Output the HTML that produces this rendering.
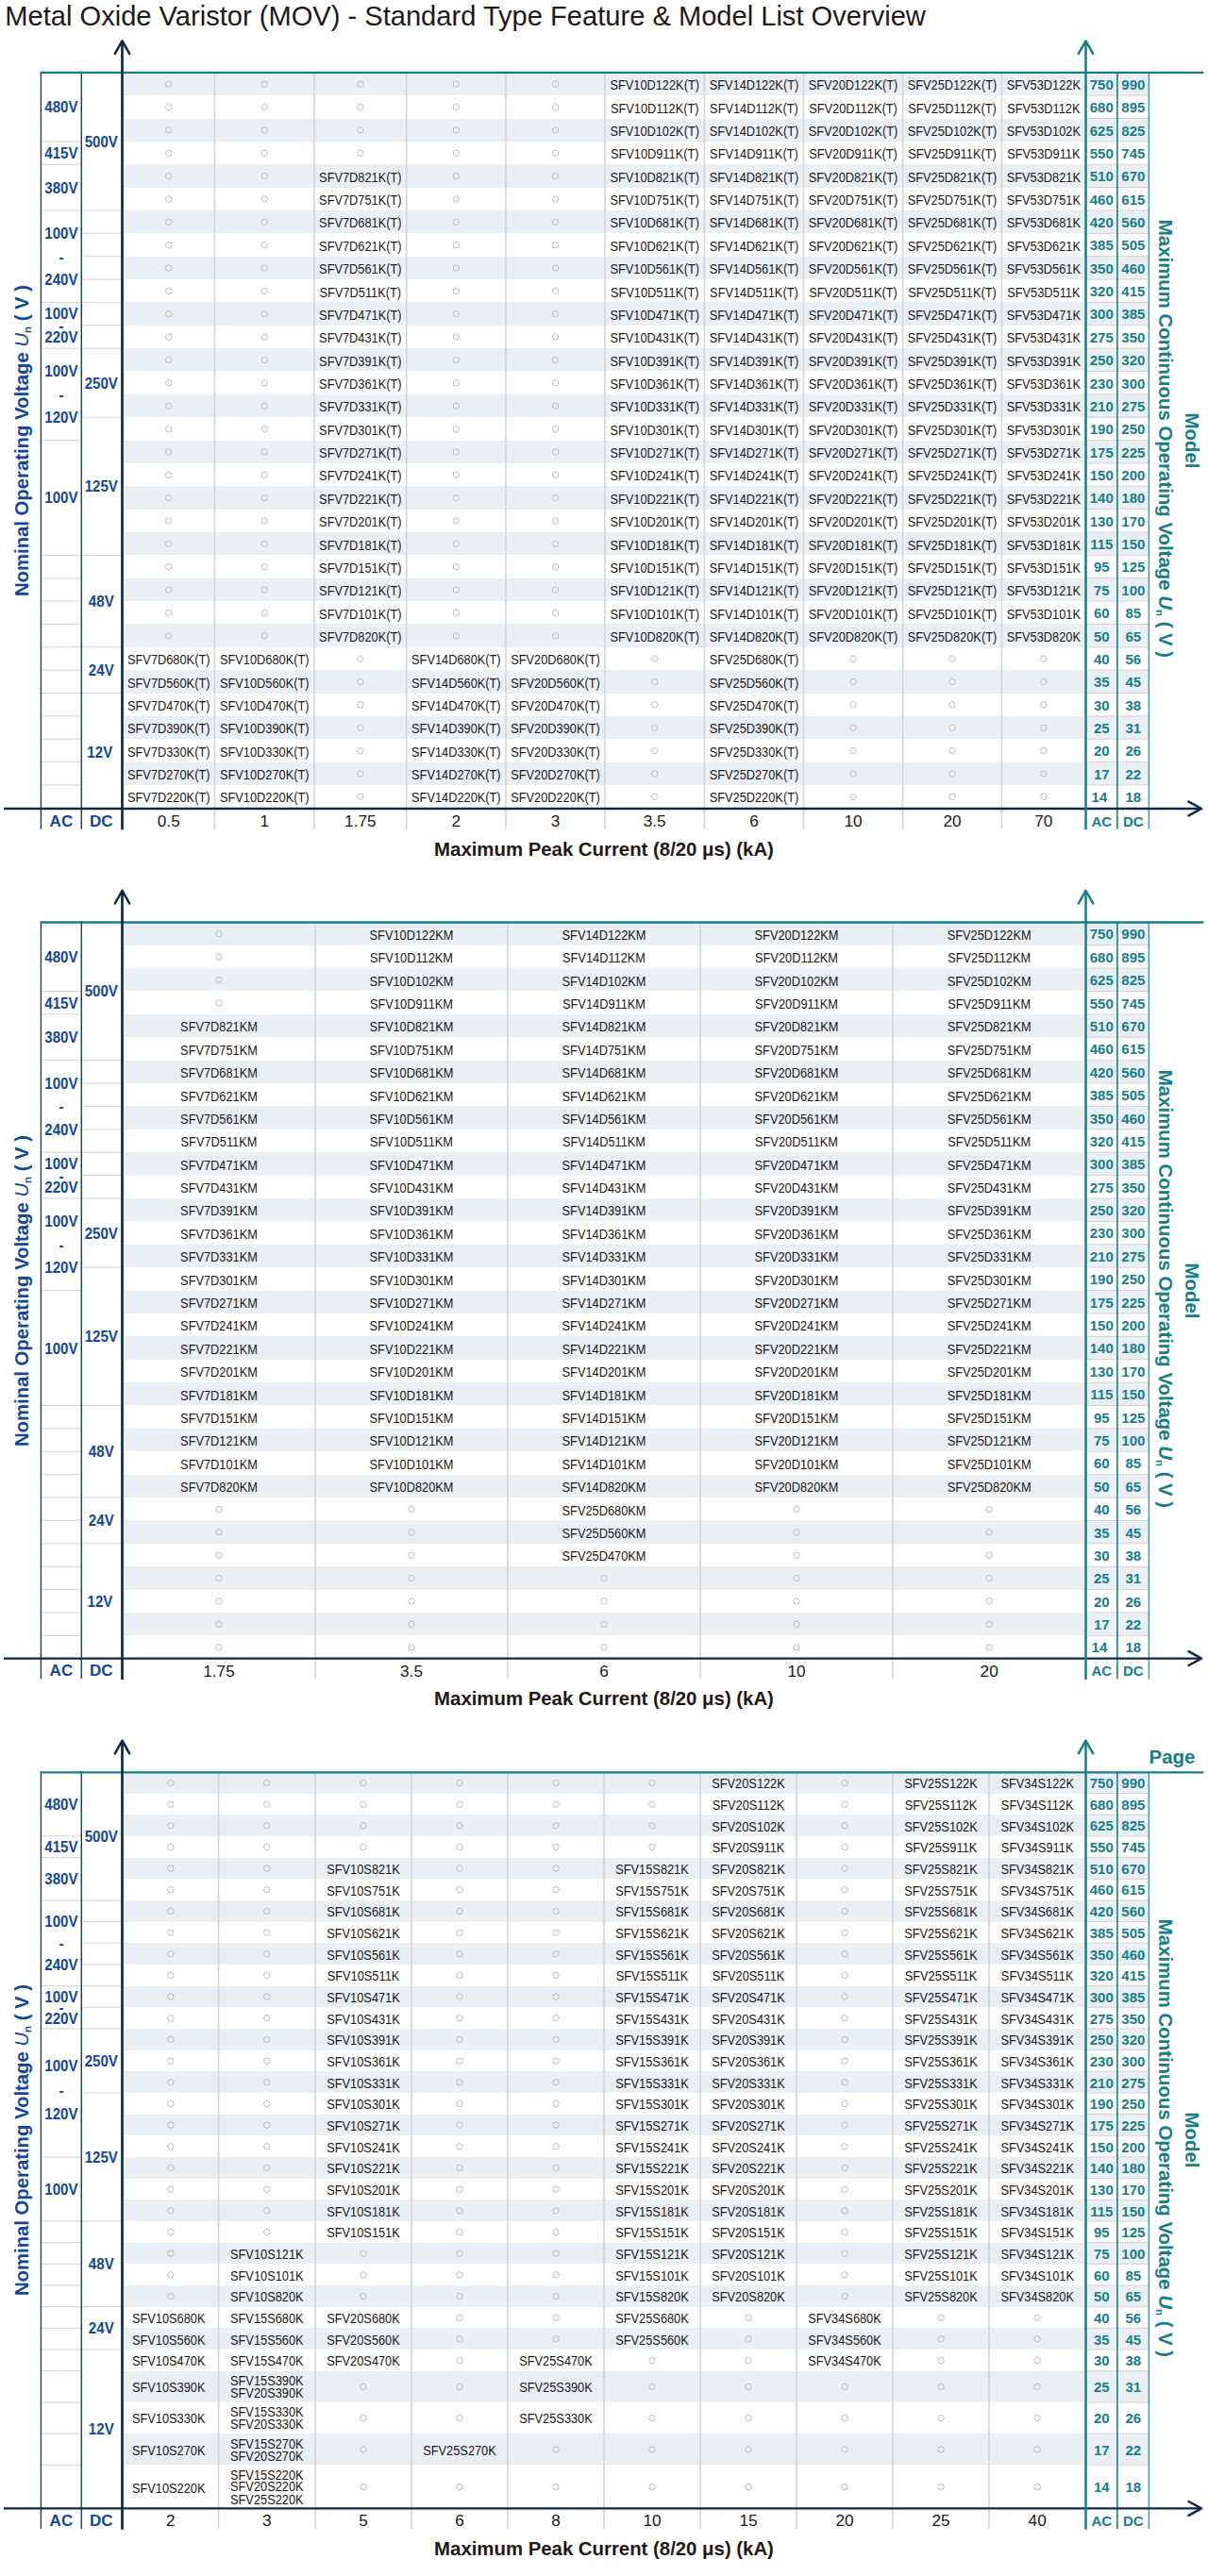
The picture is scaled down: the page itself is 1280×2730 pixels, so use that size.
<!DOCTYPE html>
<html><head><meta charset="utf-8"><title>Metal Oxide Varistor (MOV) - Standard Type Feature &amp; Model List Overview</title>
<style>
html,body{margin:0;padding:0;background:#fff}
body{width:1280px;height:2730px;position:relative;overflow:hidden;font-family:"Liberation Sans",Arial,sans-serif;color:#231815}
.a{position:absolute}
.t{position:absolute;white-space:nowrap;text-align:center}
.d{position:absolute;display:flex;align-items:center;justify-content:center;white-space:nowrap;font-size:12.8px;line-height:15px;color:#231815;transform:scaleY(1.1);transform-origin:50% calc(50% + 4.43px)}
.m{flex-direction:column;line-height:11.45px;transform-origin:50% 50%}
.b{position:absolute;background:#eaeff3}
.lb{font-weight:bold;color:#12479a;font-size:15.1px;line-height:20px;transform:scaleY(1.1);transform-origin:50% 4.42px}
.nb{font-weight:bold;color:#167e88;font-size:15px;line-height:20px}
.bl{font-size:17.2px;line-height:22px;color:#231815}
.xt{font-weight:bold;font-size:20.38px;line-height:24px;color:#231815}
.rot{font-weight:bold;font-size:20.4px;line-height:24px}
svg{position:absolute;left:0;overflow:visible}
</style></head><body>
<div class="t" style="left:5.3px;top:0px;font-size:29.1px;line-height:34px;color:#231815">Metal Oxide Varistor (MOV) - Standard Type Feature &amp; Model List Overview</div>
<div class="b" style="left:131px;top:76.8px;width:1018px;height:24.36px"></div><div class="b" style="left:1151px;top:76.8px;width:66px;height:24.36px"></div><div class="b" style="left:131px;top:125.52px;width:1018px;height:24.36px"></div><div class="b" style="left:1151px;top:125.52px;width:66px;height:24.36px"></div><div class="b" style="left:131px;top:174.24px;width:1018px;height:24.36px"></div><div class="b" style="left:1151px;top:174.24px;width:66px;height:24.36px"></div><div class="b" style="left:131px;top:222.96px;width:1018px;height:24.36px"></div><div class="b" style="left:1151px;top:222.96px;width:66px;height:24.36px"></div><div class="b" style="left:131px;top:271.68px;width:1018px;height:24.36px"></div><div class="b" style="left:1151px;top:271.68px;width:66px;height:24.36px"></div><div class="b" style="left:131px;top:320.4px;width:1018px;height:24.36px"></div><div class="b" style="left:1151px;top:320.4px;width:66px;height:24.36px"></div><div class="b" style="left:131px;top:369.12px;width:1018px;height:24.36px"></div><div class="b" style="left:1151px;top:369.12px;width:66px;height:24.36px"></div><div class="b" style="left:131px;top:417.84px;width:1018px;height:24.36px"></div><div class="b" style="left:1151px;top:417.84px;width:66px;height:24.36px"></div><div class="b" style="left:131px;top:466.56px;width:1018px;height:24.36px"></div><div class="b" style="left:1151px;top:466.56px;width:66px;height:24.36px"></div><div class="b" style="left:131px;top:515.28px;width:1018px;height:24.36px"></div><div class="b" style="left:1151px;top:515.28px;width:66px;height:24.36px"></div><div class="b" style="left:131px;top:564px;width:1018px;height:24.36px"></div><div class="b" style="left:1151px;top:564px;width:66px;height:24.36px"></div><div class="b" style="left:131px;top:612.72px;width:1018px;height:24.36px"></div><div class="b" style="left:1151px;top:612.72px;width:66px;height:24.36px"></div><div class="b" style="left:131px;top:661.44px;width:1018px;height:24.36px"></div><div class="b" style="left:1151px;top:661.44px;width:66px;height:24.36px"></div><div class="b" style="left:131px;top:710.16px;width:1018px;height:24.36px"></div><div class="b" style="left:1151px;top:710.16px;width:66px;height:24.36px"></div><div class="b" style="left:131px;top:758.88px;width:1018px;height:24.36px"></div><div class="b" style="left:1151px;top:758.88px;width:66px;height:24.36px"></div><div class="b" style="left:131px;top:807.6px;width:1018px;height:24.36px"></div><div class="b" style="left:1151px;top:807.6px;width:66px;height:24.36px"></div>
<svg class="a" style="top:0;left:0" width="1280" height="2730" viewBox="0 0 1280 2730"><line x1="227.5" y1="77.8" x2="227.5" y2="878.7" stroke="#d4d4d6" stroke-width="1.6" stroke-linecap="butt"/><line x1="333" y1="77.8" x2="333" y2="878.7" stroke="#d4d4d6" stroke-width="1.6" stroke-linecap="butt"/><line x1="430.7" y1="77.8" x2="430.7" y2="878.7" stroke="#d4d4d6" stroke-width="1.6" stroke-linecap="butt"/><line x1="536" y1="77.8" x2="536" y2="878.7" stroke="#d4d4d6" stroke-width="1.6" stroke-linecap="butt"/><line x1="641" y1="77.8" x2="641" y2="878.7" stroke="#d4d4d6" stroke-width="1.6" stroke-linecap="butt"/><line x1="746.4" y1="77.8" x2="746.4" y2="878.7" stroke="#d4d4d6" stroke-width="1.6" stroke-linecap="butt"/><line x1="851.5" y1="77.8" x2="851.5" y2="878.7" stroke="#d4d4d6" stroke-width="1.6" stroke-linecap="butt"/><line x1="956.5" y1="77.8" x2="956.5" y2="878.7" stroke="#d4d4d6" stroke-width="1.6" stroke-linecap="butt"/><line x1="1061.4" y1="77.8" x2="1061.4" y2="878.7" stroke="#d4d4d6" stroke-width="1.6" stroke-linecap="butt"/><line x1="1151" y1="101.16" x2="1217" y2="101.16" stroke="#d3d3d3" stroke-width="1" stroke-linecap="butt"/><line x1="1151" y1="125.52" x2="1217" y2="125.52" stroke="#d3d3d3" stroke-width="1" stroke-linecap="butt"/><line x1="1151" y1="149.88" x2="1217" y2="149.88" stroke="#d3d3d3" stroke-width="1" stroke-linecap="butt"/><line x1="1151" y1="174.24" x2="1217" y2="174.24" stroke="#d3d3d3" stroke-width="1" stroke-linecap="butt"/><line x1="1151" y1="198.6" x2="1217" y2="198.6" stroke="#d3d3d3" stroke-width="1" stroke-linecap="butt"/><line x1="1151" y1="222.96" x2="1217" y2="222.96" stroke="#d3d3d3" stroke-width="1" stroke-linecap="butt"/><line x1="1151" y1="247.32" x2="1217" y2="247.32" stroke="#d3d3d3" stroke-width="1" stroke-linecap="butt"/><line x1="1151" y1="271.68" x2="1217" y2="271.68" stroke="#d3d3d3" stroke-width="1" stroke-linecap="butt"/><line x1="1151" y1="296.04" x2="1217" y2="296.04" stroke="#d3d3d3" stroke-width="1" stroke-linecap="butt"/><line x1="1151" y1="320.4" x2="1217" y2="320.4" stroke="#d3d3d3" stroke-width="1" stroke-linecap="butt"/><line x1="1151" y1="344.76" x2="1217" y2="344.76" stroke="#d3d3d3" stroke-width="1" stroke-linecap="butt"/><line x1="1151" y1="369.12" x2="1217" y2="369.12" stroke="#d3d3d3" stroke-width="1" stroke-linecap="butt"/><line x1="1151" y1="393.48" x2="1217" y2="393.48" stroke="#d3d3d3" stroke-width="1" stroke-linecap="butt"/><line x1="1151" y1="417.84" x2="1217" y2="417.84" stroke="#d3d3d3" stroke-width="1" stroke-linecap="butt"/><line x1="1151" y1="442.2" x2="1217" y2="442.2" stroke="#d3d3d3" stroke-width="1" stroke-linecap="butt"/><line x1="1151" y1="466.56" x2="1217" y2="466.56" stroke="#d3d3d3" stroke-width="1" stroke-linecap="butt"/><line x1="1151" y1="490.92" x2="1217" y2="490.92" stroke="#d3d3d3" stroke-width="1" stroke-linecap="butt"/><line x1="1151" y1="515.28" x2="1217" y2="515.28" stroke="#d3d3d3" stroke-width="1" stroke-linecap="butt"/><line x1="1151" y1="539.64" x2="1217" y2="539.64" stroke="#d3d3d3" stroke-width="1" stroke-linecap="butt"/><line x1="1151" y1="564" x2="1217" y2="564" stroke="#d3d3d3" stroke-width="1" stroke-linecap="butt"/><line x1="1151" y1="588.36" x2="1217" y2="588.36" stroke="#d3d3d3" stroke-width="1" stroke-linecap="butt"/><line x1="1151" y1="612.72" x2="1217" y2="612.72" stroke="#d3d3d3" stroke-width="1" stroke-linecap="butt"/><line x1="1151" y1="637.08" x2="1217" y2="637.08" stroke="#d3d3d3" stroke-width="1" stroke-linecap="butt"/><line x1="1151" y1="661.44" x2="1217" y2="661.44" stroke="#d3d3d3" stroke-width="1" stroke-linecap="butt"/><line x1="1151" y1="685.8" x2="1217" y2="685.8" stroke="#d3d3d3" stroke-width="1" stroke-linecap="butt"/><line x1="1151" y1="710.16" x2="1217" y2="710.16" stroke="#d3d3d3" stroke-width="1" stroke-linecap="butt"/><line x1="1151" y1="734.52" x2="1217" y2="734.52" stroke="#d3d3d3" stroke-width="1" stroke-linecap="butt"/><line x1="1151" y1="758.88" x2="1217" y2="758.88" stroke="#d3d3d3" stroke-width="1" stroke-linecap="butt"/><line x1="1151" y1="783.24" x2="1217" y2="783.24" stroke="#d3d3d3" stroke-width="1" stroke-linecap="butt"/><line x1="1151" y1="807.6" x2="1217" y2="807.6" stroke="#d3d3d3" stroke-width="1" stroke-linecap="butt"/><line x1="1151" y1="831.96" x2="1217" y2="831.96" stroke="#d3d3d3" stroke-width="1" stroke-linecap="butt"/><line x1="44" y1="149.88" x2="85.5" y2="149.88" stroke="#d3d3d3" stroke-width="1" stroke-linecap="butt"/><line x1="44" y1="174.24" x2="85.5" y2="174.24" stroke="#d3d3d3" stroke-width="1" stroke-linecap="butt"/><line x1="44" y1="222.96" x2="85.5" y2="222.96" stroke="#d3d3d3" stroke-width="1" stroke-linecap="butt"/><line x1="44" y1="320.4" x2="85.5" y2="320.4" stroke="#d3d3d3" stroke-width="1" stroke-linecap="butt"/><line x1="44" y1="369.12" x2="85.5" y2="369.12" stroke="#d3d3d3" stroke-width="1" stroke-linecap="butt"/><line x1="44" y1="466.56" x2="85.5" y2="466.56" stroke="#d3d3d3" stroke-width="1" stroke-linecap="butt"/><line x1="44" y1="588.36" x2="85.5" y2="588.36" stroke="#d3d3d3" stroke-width="1" stroke-linecap="butt"/><line x1="44" y1="612.72" x2="85.5" y2="612.72" stroke="#d3d3d3" stroke-width="1" stroke-linecap="butt"/><line x1="44" y1="637.08" x2="85.5" y2="637.08" stroke="#d3d3d3" stroke-width="1" stroke-linecap="butt"/><line x1="44" y1="661.44" x2="85.5" y2="661.44" stroke="#d3d3d3" stroke-width="1" stroke-linecap="butt"/><line x1="44" y1="685.8" x2="85.5" y2="685.8" stroke="#d3d3d3" stroke-width="1" stroke-linecap="butt"/><line x1="44" y1="710.16" x2="85.5" y2="710.16" stroke="#d3d3d3" stroke-width="1" stroke-linecap="butt"/><line x1="44" y1="734.52" x2="85.5" y2="734.52" stroke="#d3d3d3" stroke-width="1" stroke-linecap="butt"/><line x1="44" y1="758.88" x2="85.5" y2="758.88" stroke="#d3d3d3" stroke-width="1" stroke-linecap="butt"/><line x1="44" y1="783.24" x2="85.5" y2="783.24" stroke="#d3d3d3" stroke-width="1" stroke-linecap="butt"/><line x1="44" y1="807.6" x2="85.5" y2="807.6" stroke="#d3d3d3" stroke-width="1" stroke-linecap="butt"/><line x1="44" y1="831.96" x2="85.5" y2="831.96" stroke="#d3d3d3" stroke-width="1" stroke-linecap="butt"/><line x1="87" y1="222.96" x2="128" y2="222.96" stroke="#d3d3d3" stroke-width="1" stroke-linecap="butt"/><line x1="87" y1="247.32" x2="128" y2="247.32" stroke="#d3d3d3" stroke-width="1" stroke-linecap="butt"/><line x1="87" y1="271.68" x2="128" y2="271.68" stroke="#d3d3d3" stroke-width="1" stroke-linecap="butt"/><line x1="87" y1="296.04" x2="128" y2="296.04" stroke="#d3d3d3" stroke-width="1" stroke-linecap="butt"/><line x1="87" y1="320.4" x2="128" y2="320.4" stroke="#d3d3d3" stroke-width="1" stroke-linecap="butt"/><line x1="87" y1="344.76" x2="128" y2="344.76" stroke="#d3d3d3" stroke-width="1" stroke-linecap="butt"/><line x1="87" y1="369.12" x2="128" y2="369.12" stroke="#d3d3d3" stroke-width="1" stroke-linecap="butt"/><line x1="87" y1="442.2" x2="128" y2="442.2" stroke="#d3d3d3" stroke-width="1" stroke-linecap="butt"/><line x1="87" y1="588.36" x2="128" y2="588.36" stroke="#d3d3d3" stroke-width="1" stroke-linecap="butt"/><line x1="87" y1="685.8" x2="128" y2="685.8" stroke="#d3d3d3" stroke-width="1" stroke-linecap="butt"/><line x1="87" y1="734.52" x2="128" y2="734.52" stroke="#d3d3d3" stroke-width="1" stroke-linecap="butt"/><line x1="43.4" y1="75.8" x2="43.4" y2="878.7" stroke="#0b2a45" stroke-width="1.2" stroke-linecap="butt"/><line x1="86.25" y1="75.8" x2="86.25" y2="878.7" stroke="#0b2a45" stroke-width="1.3" stroke-linecap="butt"/><line x1="42.8" y1="76.9" x2="1274.4" y2="76.9" stroke="#167e88" stroke-width="2.3" stroke-linecap="butt"/><circle cx="1274.4" cy="76.9" r="1.15" fill="#167e88"/><line x1="1183.9" y1="76.8" x2="1183.9" y2="878.6" stroke="#167e88" stroke-width="1.6" stroke-linecap="butt"/><line x1="1217.3" y1="76.8" x2="1217.3" y2="878.6" stroke="#167e88" stroke-width="1.1" stroke-linecap="butt"/><line x1="4" y1="857" x2="1273" y2="857" stroke="#0b2a45" stroke-width="2.4" stroke-linecap="butt"/><polyline points="1259.5,849.6 1273.1,857 1259.5,864.4" fill="none" stroke="#0b2a45" stroke-width="2.5" stroke-linecap="round" stroke-linejoin="round"/><line x1="129.5" y1="44" x2="129.5" y2="879.3" stroke="#0b2a45" stroke-width="2.7" stroke-linecap="butt"/><polyline points="121.8,56.9 129.5,43.3 137.2,56.9" fill="none" stroke="#0b2a45" stroke-width="2.5" stroke-linecap="round" stroke-linejoin="round"/><line x1="1150.5" y1="44" x2="1150.5" y2="879.3" stroke="#167e88" stroke-width="2.5" stroke-linecap="butt"/><polyline points="1142.8,56.9 1150.5,43.3 1158.2,56.9" fill="none" stroke="#167e88" stroke-width="2.5" stroke-linecap="round" stroke-linejoin="round"/></svg>
<div class="t lb" style="left:43.5px;width:42.8px;top:103.34px">480V</div><div class="t lb" style="left:43.5px;width:42.8px;top:152.06px">415V</div><div class="t lb" style="left:43.5px;width:42.8px;top:188.6px">380V</div><div class="t lb" style="left:43.5px;width:42.8px;top:237.23px">100V</div><div class="t lb" style="left:43.5px;width:42.8px;top:261.68px">-</div><div class="t lb" style="left:43.5px;width:42.8px;top:286.13px">240V</div><div class="t lb" style="left:43.5px;width:42.8px;top:322.31px">100V</div><div class="t lb" style="left:43.5px;width:42.8px;top:334.76px">-</div><div class="t lb" style="left:43.5px;width:42.8px;top:347.21px">220V</div><div class="t lb" style="left:43.5px;width:42.8px;top:383.19px">100V</div><div class="t lb" style="left:43.5px;width:42.8px;top:407.84px">-</div><div class="t lb" style="left:43.5px;width:42.8px;top:432.49px">120V</div><div class="t lb" style="left:43.5px;width:42.8px;top:517.46px">100V</div><div class="t lb" style="left:86.3px;width:42px;top:139.88px">500V</div><div class="t lb" style="left:86.3px;width:42px;top:395.66px">250V</div><div class="t lb" style="left:86.3px;width:42px;top:505.28px">125V</div><div class="t lb" style="left:86.3px;width:42px;top:627.08px">48V</div><div class="t lb" style="left:86.3px;width:42px;top:700.16px">24V</div><div class="t lb" style="left:84.8px;width:42px;top:786.62px">12V</div>
<div class="t nb" style="left:1151px;width:32.5px;top:79.88px">750</div><div class="t nb" style="left:1184.6px;width:32.5px;top:79.88px">990</div><div class="t nb" style="left:1151px;width:32.5px;top:104.24px">680</div><div class="t nb" style="left:1184.6px;width:32.5px;top:104.24px">895</div><div class="t nb" style="left:1151px;width:32.5px;top:128.6px">625</div><div class="t nb" style="left:1184.6px;width:32.5px;top:128.6px">825</div><div class="t nb" style="left:1151px;width:32.5px;top:152.96px">550</div><div class="t nb" style="left:1184.6px;width:32.5px;top:152.96px">745</div><div class="t nb" style="left:1151px;width:32.5px;top:177.32px">510</div><div class="t nb" style="left:1184.6px;width:32.5px;top:177.32px">670</div><div class="t nb" style="left:1151px;width:32.5px;top:201.68px">460</div><div class="t nb" style="left:1184.6px;width:32.5px;top:201.68px">615</div><div class="t nb" style="left:1151px;width:32.5px;top:226.04px">420</div><div class="t nb" style="left:1184.6px;width:32.5px;top:226.04px">560</div><div class="t nb" style="left:1151px;width:32.5px;top:250.4px">385</div><div class="t nb" style="left:1184.6px;width:32.5px;top:250.4px">505</div><div class="t nb" style="left:1151px;width:32.5px;top:274.76px">350</div><div class="t nb" style="left:1184.6px;width:32.5px;top:274.76px">460</div><div class="t nb" style="left:1151px;width:32.5px;top:299.12px">320</div><div class="t nb" style="left:1184.6px;width:32.5px;top:299.12px">415</div><div class="t nb" style="left:1151px;width:32.5px;top:323.48px">300</div><div class="t nb" style="left:1184.6px;width:32.5px;top:323.48px">385</div><div class="t nb" style="left:1151px;width:32.5px;top:347.84px">275</div><div class="t nb" style="left:1184.6px;width:32.5px;top:347.84px">350</div><div class="t nb" style="left:1151px;width:32.5px;top:372.2px">250</div><div class="t nb" style="left:1184.6px;width:32.5px;top:372.2px">320</div><div class="t nb" style="left:1151px;width:32.5px;top:396.56px">230</div><div class="t nb" style="left:1184.6px;width:32.5px;top:396.56px">300</div><div class="t nb" style="left:1151px;width:32.5px;top:420.92px">210</div><div class="t nb" style="left:1184.6px;width:32.5px;top:420.92px">275</div><div class="t nb" style="left:1151px;width:32.5px;top:445.28px">190</div><div class="t nb" style="left:1184.6px;width:32.5px;top:445.28px">250</div><div class="t nb" style="left:1151px;width:32.5px;top:469.64px">175</div><div class="t nb" style="left:1184.6px;width:32.5px;top:469.64px">225</div><div class="t nb" style="left:1151px;width:32.5px;top:494px">150</div><div class="t nb" style="left:1184.6px;width:32.5px;top:494px">200</div><div class="t nb" style="left:1151px;width:32.5px;top:518.36px">140</div><div class="t nb" style="left:1184.6px;width:32.5px;top:518.36px">180</div><div class="t nb" style="left:1151px;width:32.5px;top:542.72px">130</div><div class="t nb" style="left:1184.6px;width:32.5px;top:542.72px">170</div><div class="t nb" style="left:1151px;width:32.5px;top:567.08px">115</div><div class="t nb" style="left:1184.6px;width:32.5px;top:567.08px">150</div><div class="t nb" style="left:1151px;width:32.5px;top:591.44px">95</div><div class="t nb" style="left:1184.6px;width:32.5px;top:591.44px">125</div><div class="t nb" style="left:1151px;width:32.5px;top:615.8px">75</div><div class="t nb" style="left:1184.6px;width:32.5px;top:615.8px">100</div><div class="t nb" style="left:1151px;width:32.5px;top:640.16px">60</div><div class="t nb" style="left:1184.6px;width:32.5px;top:640.16px">85</div><div class="t nb" style="left:1151px;width:32.5px;top:664.52px">50</div><div class="t nb" style="left:1184.6px;width:32.5px;top:664.52px">65</div><div class="t nb" style="left:1151px;width:32.5px;top:688.88px">40</div><div class="t nb" style="left:1184.6px;width:32.5px;top:688.88px">56</div><div class="t nb" style="left:1151px;width:32.5px;top:713.24px">35</div><div class="t nb" style="left:1184.6px;width:32.5px;top:713.24px">45</div><div class="t nb" style="left:1151px;width:32.5px;top:737.6px">30</div><div class="t nb" style="left:1184.6px;width:32.5px;top:737.6px">38</div><div class="t nb" style="left:1151px;width:32.5px;top:761.96px">25</div><div class="t nb" style="left:1184.6px;width:32.5px;top:761.96px">31</div><div class="t nb" style="left:1151px;width:32.5px;top:786.32px">20</div><div class="t nb" style="left:1184.6px;width:32.5px;top:786.32px">26</div><div class="t nb" style="left:1151px;width:32.5px;top:810.68px">17</div><div class="t nb" style="left:1184.6px;width:32.5px;top:810.68px">22</div><div class="t nb" style="left:1148.7px;width:32.5px;top:835.04px">14</div><div class="t nb" style="left:1184.6px;width:32.5px;top:835.04px">18</div>
<div class="d" style="left:130px;top:687.3px;width:97.5px;height:24.36px">SFV7D680K(T)</div><div class="d" style="left:130px;top:711.66px;width:97.5px;height:24.36px">SFV7D560K(T)</div><div class="d" style="left:130px;top:736.02px;width:97.5px;height:24.36px">SFV7D470K(T)</div><div class="d" style="left:130px;top:760.38px;width:97.5px;height:24.36px">SFV7D390K(T)</div><div class="d" style="left:130px;top:784.74px;width:97.5px;height:24.36px">SFV7D330K(T)</div><div class="d" style="left:130px;top:809.1px;width:97.5px;height:24.36px">SFV7D270K(T)</div><div class="d" style="left:130px;top:833.46px;width:97.5px;height:24.36px">SFV7D220K(T)</div>
<div class="d" style="left:227.5px;top:687.3px;width:105.5px;height:24.36px">SFV10D680K(T)</div><div class="d" style="left:227.5px;top:711.66px;width:105.5px;height:24.36px">SFV10D560K(T)</div><div class="d" style="left:227.5px;top:736.02px;width:105.5px;height:24.36px">SFV10D470K(T)</div><div class="d" style="left:227.5px;top:760.38px;width:105.5px;height:24.36px">SFV10D390K(T)</div><div class="d" style="left:227.5px;top:784.74px;width:105.5px;height:24.36px">SFV10D330K(T)</div><div class="d" style="left:227.5px;top:809.1px;width:105.5px;height:24.36px">SFV10D270K(T)</div><div class="d" style="left:227.5px;top:833.46px;width:105.5px;height:24.36px">SFV10D220K(T)</div>
<div class="d" style="left:333px;top:175.74px;width:97.7px;height:24.36px">SFV7D821K(T)</div><div class="d" style="left:333px;top:200.1px;width:97.7px;height:24.36px">SFV7D751K(T)</div><div class="d" style="left:333px;top:224.46px;width:97.7px;height:24.36px">SFV7D681K(T)</div><div class="d" style="left:333px;top:248.82px;width:97.7px;height:24.36px">SFV7D621K(T)</div><div class="d" style="left:333px;top:273.18px;width:97.7px;height:24.36px">SFV7D561K(T)</div><div class="d" style="left:333px;top:297.54px;width:97.7px;height:24.36px">SFV7D511K(T)</div><div class="d" style="left:333px;top:321.9px;width:97.7px;height:24.36px">SFV7D471K(T)</div><div class="d" style="left:333px;top:346.26px;width:97.7px;height:24.36px">SFV7D431K(T)</div><div class="d" style="left:333px;top:370.62px;width:97.7px;height:24.36px">SFV7D391K(T)</div><div class="d" style="left:333px;top:394.98px;width:97.7px;height:24.36px">SFV7D361K(T)</div><div class="d" style="left:333px;top:419.34px;width:97.7px;height:24.36px">SFV7D331K(T)</div><div class="d" style="left:333px;top:443.7px;width:97.7px;height:24.36px">SFV7D301K(T)</div><div class="d" style="left:333px;top:468.06px;width:97.7px;height:24.36px">SFV7D271K(T)</div><div class="d" style="left:333px;top:492.42px;width:97.7px;height:24.36px">SFV7D241K(T)</div><div class="d" style="left:333px;top:516.78px;width:97.7px;height:24.36px">SFV7D221K(T)</div><div class="d" style="left:333px;top:541.14px;width:97.7px;height:24.36px">SFV7D201K(T)</div><div class="d" style="left:333px;top:565.5px;width:97.7px;height:24.36px">SFV7D181K(T)</div><div class="d" style="left:333px;top:589.86px;width:97.7px;height:24.36px">SFV7D151K(T)</div><div class="d" style="left:333px;top:614.22px;width:97.7px;height:24.36px">SFV7D121K(T)</div><div class="d" style="left:333px;top:638.58px;width:97.7px;height:24.36px">SFV7D101K(T)</div><div class="d" style="left:333px;top:662.94px;width:97.7px;height:24.36px">SFV7D820K(T)</div>
<div class="d" style="left:430.7px;top:687.3px;width:105.3px;height:24.36px">SFV14D680K(T)</div><div class="d" style="left:430.7px;top:711.66px;width:105.3px;height:24.36px">SFV14D560K(T)</div><div class="d" style="left:430.7px;top:736.02px;width:105.3px;height:24.36px">SFV14D470K(T)</div><div class="d" style="left:430.7px;top:760.38px;width:105.3px;height:24.36px">SFV14D390K(T)</div><div class="d" style="left:430.7px;top:784.74px;width:105.3px;height:24.36px">SFV14D330K(T)</div><div class="d" style="left:430.7px;top:809.1px;width:105.3px;height:24.36px">SFV14D270K(T)</div><div class="d" style="left:430.7px;top:833.46px;width:105.3px;height:24.36px">SFV14D220K(T)</div>
<div class="d" style="left:536px;top:687.3px;width:105px;height:24.36px">SFV20D680K(T)</div><div class="d" style="left:536px;top:711.66px;width:105px;height:24.36px">SFV20D560K(T)</div><div class="d" style="left:536px;top:736.02px;width:105px;height:24.36px">SFV20D470K(T)</div><div class="d" style="left:536px;top:760.38px;width:105px;height:24.36px">SFV20D390K(T)</div><div class="d" style="left:536px;top:784.74px;width:105px;height:24.36px">SFV20D330K(T)</div><div class="d" style="left:536px;top:809.1px;width:105px;height:24.36px">SFV20D270K(T)</div><div class="d" style="left:536px;top:833.46px;width:105px;height:24.36px">SFV20D220K(T)</div>
<div class="d" style="left:641px;top:78.3px;width:105.4px;height:24.36px">SFV10D122K(T)</div><div class="d" style="left:641px;top:102.66px;width:105.4px;height:24.36px">SFV10D112K(T)</div><div class="d" style="left:641px;top:127.02px;width:105.4px;height:24.36px">SFV10D102K(T)</div><div class="d" style="left:641px;top:151.38px;width:105.4px;height:24.36px">SFV10D911K(T)</div><div class="d" style="left:641px;top:175.74px;width:105.4px;height:24.36px">SFV10D821K(T)</div><div class="d" style="left:641px;top:200.1px;width:105.4px;height:24.36px">SFV10D751K(T)</div><div class="d" style="left:641px;top:224.46px;width:105.4px;height:24.36px">SFV10D681K(T)</div><div class="d" style="left:641px;top:248.82px;width:105.4px;height:24.36px">SFV10D621K(T)</div><div class="d" style="left:641px;top:273.18px;width:105.4px;height:24.36px">SFV10D561K(T)</div><div class="d" style="left:641px;top:297.54px;width:105.4px;height:24.36px">SFV10D511K(T)</div><div class="d" style="left:641px;top:321.9px;width:105.4px;height:24.36px">SFV10D471K(T)</div><div class="d" style="left:641px;top:346.26px;width:105.4px;height:24.36px">SFV10D431K(T)</div><div class="d" style="left:641px;top:370.62px;width:105.4px;height:24.36px">SFV10D391K(T)</div><div class="d" style="left:641px;top:394.98px;width:105.4px;height:24.36px">SFV10D361K(T)</div><div class="d" style="left:641px;top:419.34px;width:105.4px;height:24.36px">SFV10D331K(T)</div><div class="d" style="left:641px;top:443.7px;width:105.4px;height:24.36px">SFV10D301K(T)</div><div class="d" style="left:641px;top:468.06px;width:105.4px;height:24.36px">SFV10D271K(T)</div><div class="d" style="left:641px;top:492.42px;width:105.4px;height:24.36px">SFV10D241K(T)</div><div class="d" style="left:641px;top:516.78px;width:105.4px;height:24.36px">SFV10D221K(T)</div><div class="d" style="left:641px;top:541.14px;width:105.4px;height:24.36px">SFV10D201K(T)</div><div class="d" style="left:641px;top:565.5px;width:105.4px;height:24.36px">SFV10D181K(T)</div><div class="d" style="left:641px;top:589.86px;width:105.4px;height:24.36px">SFV10D151K(T)</div><div class="d" style="left:641px;top:614.22px;width:105.4px;height:24.36px">SFV10D121K(T)</div><div class="d" style="left:641px;top:638.58px;width:105.4px;height:24.36px">SFV10D101K(T)</div><div class="d" style="left:641px;top:662.94px;width:105.4px;height:24.36px">SFV10D820K(T)</div>
<div class="d" style="left:746.4px;top:78.3px;width:105.1px;height:24.36px">SFV14D122K(T)</div><div class="d" style="left:746.4px;top:102.66px;width:105.1px;height:24.36px">SFV14D112K(T)</div><div class="d" style="left:746.4px;top:127.02px;width:105.1px;height:24.36px">SFV14D102K(T)</div><div class="d" style="left:746.4px;top:151.38px;width:105.1px;height:24.36px">SFV14D911K(T)</div><div class="d" style="left:746.4px;top:175.74px;width:105.1px;height:24.36px">SFV14D821K(T)</div><div class="d" style="left:746.4px;top:200.1px;width:105.1px;height:24.36px">SFV14D751K(T)</div><div class="d" style="left:746.4px;top:224.46px;width:105.1px;height:24.36px">SFV14D681K(T)</div><div class="d" style="left:746.4px;top:248.82px;width:105.1px;height:24.36px">SFV14D621K(T)</div><div class="d" style="left:746.4px;top:273.18px;width:105.1px;height:24.36px">SFV14D561K(T)</div><div class="d" style="left:746.4px;top:297.54px;width:105.1px;height:24.36px">SFV14D511K(T)</div><div class="d" style="left:746.4px;top:321.9px;width:105.1px;height:24.36px">SFV14D471K(T)</div><div class="d" style="left:746.4px;top:346.26px;width:105.1px;height:24.36px">SFV14D431K(T)</div><div class="d" style="left:746.4px;top:370.62px;width:105.1px;height:24.36px">SFV14D391K(T)</div><div class="d" style="left:746.4px;top:394.98px;width:105.1px;height:24.36px">SFV14D361K(T)</div><div class="d" style="left:746.4px;top:419.34px;width:105.1px;height:24.36px">SFV14D331K(T)</div><div class="d" style="left:746.4px;top:443.7px;width:105.1px;height:24.36px">SFV14D301K(T)</div><div class="d" style="left:746.4px;top:468.06px;width:105.1px;height:24.36px">SFV14D271K(T)</div><div class="d" style="left:746.4px;top:492.42px;width:105.1px;height:24.36px">SFV14D241K(T)</div><div class="d" style="left:746.4px;top:516.78px;width:105.1px;height:24.36px">SFV14D221K(T)</div><div class="d" style="left:746.4px;top:541.14px;width:105.1px;height:24.36px">SFV14D201K(T)</div><div class="d" style="left:746.4px;top:565.5px;width:105.1px;height:24.36px">SFV14D181K(T)</div><div class="d" style="left:746.4px;top:589.86px;width:105.1px;height:24.36px">SFV14D151K(T)</div><div class="d" style="left:746.4px;top:614.22px;width:105.1px;height:24.36px">SFV14D121K(T)</div><div class="d" style="left:746.4px;top:638.58px;width:105.1px;height:24.36px">SFV14D101K(T)</div><div class="d" style="left:746.4px;top:662.94px;width:105.1px;height:24.36px">SFV14D820K(T)</div><div class="d" style="left:746.4px;top:687.3px;width:105.1px;height:24.36px">SFV25D680K(T)</div><div class="d" style="left:746.4px;top:711.66px;width:105.1px;height:24.36px">SFV25D560K(T)</div><div class="d" style="left:746.4px;top:736.02px;width:105.1px;height:24.36px">SFV25D470K(T)</div><div class="d" style="left:746.4px;top:760.38px;width:105.1px;height:24.36px">SFV25D390K(T)</div><div class="d" style="left:746.4px;top:784.74px;width:105.1px;height:24.36px">SFV25D330K(T)</div><div class="d" style="left:746.4px;top:809.1px;width:105.1px;height:24.36px">SFV25D270K(T)</div><div class="d" style="left:746.4px;top:833.46px;width:105.1px;height:24.36px">SFV25D220K(T)</div>
<div class="d" style="left:851.5px;top:78.3px;width:105px;height:24.36px">SFV20D122K(T)</div><div class="d" style="left:851.5px;top:102.66px;width:105px;height:24.36px">SFV20D112K(T)</div><div class="d" style="left:851.5px;top:127.02px;width:105px;height:24.36px">SFV20D102K(T)</div><div class="d" style="left:851.5px;top:151.38px;width:105px;height:24.36px">SFV20D911K(T)</div><div class="d" style="left:851.5px;top:175.74px;width:105px;height:24.36px">SFV20D821K(T)</div><div class="d" style="left:851.5px;top:200.1px;width:105px;height:24.36px">SFV20D751K(T)</div><div class="d" style="left:851.5px;top:224.46px;width:105px;height:24.36px">SFV20D681K(T)</div><div class="d" style="left:851.5px;top:248.82px;width:105px;height:24.36px">SFV20D621K(T)</div><div class="d" style="left:851.5px;top:273.18px;width:105px;height:24.36px">SFV20D561K(T)</div><div class="d" style="left:851.5px;top:297.54px;width:105px;height:24.36px">SFV20D511K(T)</div><div class="d" style="left:851.5px;top:321.9px;width:105px;height:24.36px">SFV20D471K(T)</div><div class="d" style="left:851.5px;top:346.26px;width:105px;height:24.36px">SFV20D431K(T)</div><div class="d" style="left:851.5px;top:370.62px;width:105px;height:24.36px">SFV20D391K(T)</div><div class="d" style="left:851.5px;top:394.98px;width:105px;height:24.36px">SFV20D361K(T)</div><div class="d" style="left:851.5px;top:419.34px;width:105px;height:24.36px">SFV20D331K(T)</div><div class="d" style="left:851.5px;top:443.7px;width:105px;height:24.36px">SFV20D301K(T)</div><div class="d" style="left:851.5px;top:468.06px;width:105px;height:24.36px">SFV20D271K(T)</div><div class="d" style="left:851.5px;top:492.42px;width:105px;height:24.36px">SFV20D241K(T)</div><div class="d" style="left:851.5px;top:516.78px;width:105px;height:24.36px">SFV20D221K(T)</div><div class="d" style="left:851.5px;top:541.14px;width:105px;height:24.36px">SFV20D201K(T)</div><div class="d" style="left:851.5px;top:565.5px;width:105px;height:24.36px">SFV20D181K(T)</div><div class="d" style="left:851.5px;top:589.86px;width:105px;height:24.36px">SFV20D151K(T)</div><div class="d" style="left:851.5px;top:614.22px;width:105px;height:24.36px">SFV20D121K(T)</div><div class="d" style="left:851.5px;top:638.58px;width:105px;height:24.36px">SFV20D101K(T)</div><div class="d" style="left:851.5px;top:662.94px;width:105px;height:24.36px">SFV20D820K(T)</div>
<div class="d" style="left:956.5px;top:78.3px;width:104.9px;height:24.36px">SFV25D122K(T)</div><div class="d" style="left:956.5px;top:102.66px;width:104.9px;height:24.36px">SFV25D112K(T)</div><div class="d" style="left:956.5px;top:127.02px;width:104.9px;height:24.36px">SFV25D102K(T)</div><div class="d" style="left:956.5px;top:151.38px;width:104.9px;height:24.36px">SFV25D911K(T)</div><div class="d" style="left:956.5px;top:175.74px;width:104.9px;height:24.36px">SFV25D821K(T)</div><div class="d" style="left:956.5px;top:200.1px;width:104.9px;height:24.36px">SFV25D751K(T)</div><div class="d" style="left:956.5px;top:224.46px;width:104.9px;height:24.36px">SFV25D681K(T)</div><div class="d" style="left:956.5px;top:248.82px;width:104.9px;height:24.36px">SFV25D621K(T)</div><div class="d" style="left:956.5px;top:273.18px;width:104.9px;height:24.36px">SFV25D561K(T)</div><div class="d" style="left:956.5px;top:297.54px;width:104.9px;height:24.36px">SFV25D511K(T)</div><div class="d" style="left:956.5px;top:321.9px;width:104.9px;height:24.36px">SFV25D471K(T)</div><div class="d" style="left:956.5px;top:346.26px;width:104.9px;height:24.36px">SFV25D431K(T)</div><div class="d" style="left:956.5px;top:370.62px;width:104.9px;height:24.36px">SFV25D391K(T)</div><div class="d" style="left:956.5px;top:394.98px;width:104.9px;height:24.36px">SFV25D361K(T)</div><div class="d" style="left:956.5px;top:419.34px;width:104.9px;height:24.36px">SFV25D331K(T)</div><div class="d" style="left:956.5px;top:443.7px;width:104.9px;height:24.36px">SFV25D301K(T)</div><div class="d" style="left:956.5px;top:468.06px;width:104.9px;height:24.36px">SFV25D271K(T)</div><div class="d" style="left:956.5px;top:492.42px;width:104.9px;height:24.36px">SFV25D241K(T)</div><div class="d" style="left:956.5px;top:516.78px;width:104.9px;height:24.36px">SFV25D221K(T)</div><div class="d" style="left:956.5px;top:541.14px;width:104.9px;height:24.36px">SFV25D201K(T)</div><div class="d" style="left:956.5px;top:565.5px;width:104.9px;height:24.36px">SFV25D181K(T)</div><div class="d" style="left:956.5px;top:589.86px;width:104.9px;height:24.36px">SFV25D151K(T)</div><div class="d" style="left:956.5px;top:614.22px;width:104.9px;height:24.36px">SFV25D121K(T)</div><div class="d" style="left:956.5px;top:638.58px;width:104.9px;height:24.36px">SFV25D101K(T)</div><div class="d" style="left:956.5px;top:662.94px;width:104.9px;height:24.36px">SFV25D820K(T)</div>
<div class="d" style="left:1061.4px;top:78.3px;width:88.9px;height:24.36px">SFV53D122K</div><div class="d" style="left:1061.4px;top:102.66px;width:88.9px;height:24.36px">SFV53D112K</div><div class="d" style="left:1061.4px;top:127.02px;width:88.9px;height:24.36px">SFV53D102K</div><div class="d" style="left:1061.4px;top:151.38px;width:88.9px;height:24.36px">SFV53D911K</div><div class="d" style="left:1061.4px;top:175.74px;width:88.9px;height:24.36px">SFV53D821K</div><div class="d" style="left:1061.4px;top:200.1px;width:88.9px;height:24.36px">SFV53D751K</div><div class="d" style="left:1061.4px;top:224.46px;width:88.9px;height:24.36px">SFV53D681K</div><div class="d" style="left:1061.4px;top:248.82px;width:88.9px;height:24.36px">SFV53D621K</div><div class="d" style="left:1061.4px;top:273.18px;width:88.9px;height:24.36px">SFV53D561K</div><div class="d" style="left:1061.4px;top:297.54px;width:88.9px;height:24.36px">SFV53D511K</div><div class="d" style="left:1061.4px;top:321.9px;width:88.9px;height:24.36px">SFV53D471K</div><div class="d" style="left:1061.4px;top:346.26px;width:88.9px;height:24.36px">SFV53D431K</div><div class="d" style="left:1061.4px;top:370.62px;width:88.9px;height:24.36px">SFV53D391K</div><div class="d" style="left:1061.4px;top:394.98px;width:88.9px;height:24.36px">SFV53D361K</div><div class="d" style="left:1061.4px;top:419.34px;width:88.9px;height:24.36px">SFV53D331K</div><div class="d" style="left:1061.4px;top:443.7px;width:88.9px;height:24.36px">SFV53D301K</div><div class="d" style="left:1061.4px;top:468.06px;width:88.9px;height:24.36px">SFV53D271K</div><div class="d" style="left:1061.4px;top:492.42px;width:88.9px;height:24.36px">SFV53D241K</div><div class="d" style="left:1061.4px;top:516.78px;width:88.9px;height:24.36px">SFV53D221K</div><div class="d" style="left:1061.4px;top:541.14px;width:88.9px;height:24.36px">SFV53D201K</div><div class="d" style="left:1061.4px;top:565.5px;width:88.9px;height:24.36px">SFV53D181K</div><div class="d" style="left:1061.4px;top:589.86px;width:88.9px;height:24.36px">SFV53D151K</div><div class="d" style="left:1061.4px;top:614.22px;width:88.9px;height:24.36px">SFV53D121K</div><div class="d" style="left:1061.4px;top:638.58px;width:88.9px;height:24.36px">SFV53D101K</div><div class="d" style="left:1061.4px;top:662.94px;width:88.9px;height:24.36px">SFV53D820K</div>
<svg class="a" style="top:0;left:0" width="1280" height="2730" viewBox="0 0 1280 2730"><g fill="none" stroke="#bcbcbc" stroke-width="1"><circle cx="178.75" cy="89.18" r="3.2"/><circle cx="178.75" cy="113.54" r="3.2"/><circle cx="178.75" cy="137.9" r="3.2"/><circle cx="178.75" cy="162.26" r="3.2"/><circle cx="178.75" cy="186.62" r="3.2"/><circle cx="178.75" cy="210.98" r="3.2"/><circle cx="178.75" cy="235.34" r="3.2"/><circle cx="178.75" cy="259.7" r="3.2"/><circle cx="178.75" cy="284.06" r="3.2"/><circle cx="178.75" cy="308.42" r="3.2"/><circle cx="178.75" cy="332.78" r="3.2"/><circle cx="178.75" cy="357.14" r="3.2"/><circle cx="178.75" cy="381.5" r="3.2"/><circle cx="178.75" cy="405.86" r="3.2"/><circle cx="178.75" cy="430.22" r="3.2"/><circle cx="178.75" cy="454.58" r="3.2"/><circle cx="178.75" cy="478.94" r="3.2"/><circle cx="178.75" cy="503.3" r="3.2"/><circle cx="178.75" cy="527.66" r="3.2"/><circle cx="178.75" cy="552.02" r="3.2"/><circle cx="178.75" cy="576.38" r="3.2"/><circle cx="178.75" cy="600.74" r="3.2"/><circle cx="178.75" cy="625.1" r="3.2"/><circle cx="178.75" cy="649.46" r="3.2"/><circle cx="178.75" cy="673.82" r="3.2"/><circle cx="280.25" cy="89.18" r="3.2"/><circle cx="280.25" cy="113.54" r="3.2"/><circle cx="280.25" cy="137.9" r="3.2"/><circle cx="280.25" cy="162.26" r="3.2"/><circle cx="280.25" cy="186.62" r="3.2"/><circle cx="280.25" cy="210.98" r="3.2"/><circle cx="280.25" cy="235.34" r="3.2"/><circle cx="280.25" cy="259.7" r="3.2"/><circle cx="280.25" cy="284.06" r="3.2"/><circle cx="280.25" cy="308.42" r="3.2"/><circle cx="280.25" cy="332.78" r="3.2"/><circle cx="280.25" cy="357.14" r="3.2"/><circle cx="280.25" cy="381.5" r="3.2"/><circle cx="280.25" cy="405.86" r="3.2"/><circle cx="280.25" cy="430.22" r="3.2"/><circle cx="280.25" cy="454.58" r="3.2"/><circle cx="280.25" cy="478.94" r="3.2"/><circle cx="280.25" cy="503.3" r="3.2"/><circle cx="280.25" cy="527.66" r="3.2"/><circle cx="280.25" cy="552.02" r="3.2"/><circle cx="280.25" cy="576.38" r="3.2"/><circle cx="280.25" cy="600.74" r="3.2"/><circle cx="280.25" cy="625.1" r="3.2"/><circle cx="280.25" cy="649.46" r="3.2"/><circle cx="280.25" cy="673.82" r="3.2"/><circle cx="381.85" cy="89.18" r="3.2"/><circle cx="381.85" cy="113.54" r="3.2"/><circle cx="381.85" cy="137.9" r="3.2"/><circle cx="381.85" cy="162.26" r="3.2"/><circle cx="381.85" cy="698.18" r="3.2"/><circle cx="381.85" cy="722.54" r="3.2"/><circle cx="381.85" cy="746.9" r="3.2"/><circle cx="381.85" cy="771.26" r="3.2"/><circle cx="381.85" cy="795.62" r="3.2"/><circle cx="381.85" cy="819.98" r="3.2"/><circle cx="381.85" cy="844.34" r="3.2"/><circle cx="483.35" cy="89.18" r="3.2"/><circle cx="483.35" cy="113.54" r="3.2"/><circle cx="483.35" cy="137.9" r="3.2"/><circle cx="483.35" cy="162.26" r="3.2"/><circle cx="483.35" cy="186.62" r="3.2"/><circle cx="483.35" cy="210.98" r="3.2"/><circle cx="483.35" cy="235.34" r="3.2"/><circle cx="483.35" cy="259.7" r="3.2"/><circle cx="483.35" cy="284.06" r="3.2"/><circle cx="483.35" cy="308.42" r="3.2"/><circle cx="483.35" cy="332.78" r="3.2"/><circle cx="483.35" cy="357.14" r="3.2"/><circle cx="483.35" cy="381.5" r="3.2"/><circle cx="483.35" cy="405.86" r="3.2"/><circle cx="483.35" cy="430.22" r="3.2"/><circle cx="483.35" cy="454.58" r="3.2"/><circle cx="483.35" cy="478.94" r="3.2"/><circle cx="483.35" cy="503.3" r="3.2"/><circle cx="483.35" cy="527.66" r="3.2"/><circle cx="483.35" cy="552.02" r="3.2"/><circle cx="483.35" cy="576.38" r="3.2"/><circle cx="483.35" cy="600.74" r="3.2"/><circle cx="483.35" cy="625.1" r="3.2"/><circle cx="483.35" cy="649.46" r="3.2"/><circle cx="483.35" cy="673.82" r="3.2"/><circle cx="588.5" cy="89.18" r="3.2"/><circle cx="588.5" cy="113.54" r="3.2"/><circle cx="588.5" cy="137.9" r="3.2"/><circle cx="588.5" cy="162.26" r="3.2"/><circle cx="588.5" cy="186.62" r="3.2"/><circle cx="588.5" cy="210.98" r="3.2"/><circle cx="588.5" cy="235.34" r="3.2"/><circle cx="588.5" cy="259.7" r="3.2"/><circle cx="588.5" cy="284.06" r="3.2"/><circle cx="588.5" cy="308.42" r="3.2"/><circle cx="588.5" cy="332.78" r="3.2"/><circle cx="588.5" cy="357.14" r="3.2"/><circle cx="588.5" cy="381.5" r="3.2"/><circle cx="588.5" cy="405.86" r="3.2"/><circle cx="588.5" cy="430.22" r="3.2"/><circle cx="588.5" cy="454.58" r="3.2"/><circle cx="588.5" cy="478.94" r="3.2"/><circle cx="588.5" cy="503.3" r="3.2"/><circle cx="588.5" cy="527.66" r="3.2"/><circle cx="588.5" cy="552.02" r="3.2"/><circle cx="588.5" cy="576.38" r="3.2"/><circle cx="588.5" cy="600.74" r="3.2"/><circle cx="588.5" cy="625.1" r="3.2"/><circle cx="588.5" cy="649.46" r="3.2"/><circle cx="588.5" cy="673.82" r="3.2"/><circle cx="693.7" cy="698.18" r="3.2"/><circle cx="693.7" cy="722.54" r="3.2"/><circle cx="693.7" cy="746.9" r="3.2"/><circle cx="693.7" cy="771.26" r="3.2"/><circle cx="693.7" cy="795.62" r="3.2"/><circle cx="693.7" cy="819.98" r="3.2"/><circle cx="693.7" cy="844.34" r="3.2"/><circle cx="904" cy="698.18" r="3.2"/><circle cx="904" cy="722.54" r="3.2"/><circle cx="904" cy="746.9" r="3.2"/><circle cx="904" cy="771.26" r="3.2"/><circle cx="904" cy="795.62" r="3.2"/><circle cx="904" cy="819.98" r="3.2"/><circle cx="904" cy="844.34" r="3.2"/><circle cx="1008.95" cy="698.18" r="3.2"/><circle cx="1008.95" cy="722.54" r="3.2"/><circle cx="1008.95" cy="746.9" r="3.2"/><circle cx="1008.95" cy="771.26" r="3.2"/><circle cx="1008.95" cy="795.62" r="3.2"/><circle cx="1008.95" cy="819.98" r="3.2"/><circle cx="1008.95" cy="844.34" r="3.2"/><circle cx="1105.85" cy="698.18" r="3.2"/><circle cx="1105.85" cy="722.54" r="3.2"/><circle cx="1105.85" cy="746.9" r="3.2"/><circle cx="1105.85" cy="771.26" r="3.2"/><circle cx="1105.85" cy="795.62" r="3.2"/><circle cx="1105.85" cy="819.98" r="3.2"/><circle cx="1105.85" cy="844.34" r="3.2"/></g></svg>
<div class="t bl" style="left:130px;width:97.5px;top:859px">0.5</div><div class="t bl" style="left:227.5px;width:105.5px;top:859px">1</div><div class="t bl" style="left:333px;width:97.7px;top:859px">1.75</div><div class="t bl" style="left:430.7px;width:105.3px;top:859px">2</div><div class="t bl" style="left:536px;width:105px;top:859px">3</div><div class="t bl" style="left:641px;width:105.4px;top:859px">3.5</div><div class="t bl" style="left:746.4px;width:105.1px;top:859px">6</div><div class="t bl" style="left:851.5px;width:105px;top:859px">10</div><div class="t bl" style="left:956.5px;width:104.9px;top:859px">20</div><div class="t bl" style="left:1061.4px;width:88.9px;top:859px">70</div><div class="t lb" style="left:43.5px;width:42.8px;top:860.8px;font-size:17px;transform:none">AC</div><div class="t lb" style="left:86.3px;width:42px;top:860.8px;font-size:17px;transform:none">DC</div><div class="t nb" style="left:1151px;width:32.5px;top:860.5px">AC</div><div class="t nb" style="left:1184.6px;width:32.5px;top:860.5px">DC</div><div class="t xt" style="left:0;width:1280px;top:887.6px">Maximum Peak Current (8/20 μs) (kA)</div><div class="t rot" style="left:-200px;width:600px;top:451.71px;color:#12479a;font-size:20.3px;transform:translateX(-74.2px) rotate(-90deg)">Nominal Operating Voltage <i style="font-weight:normal">U</i><sub style="font-size:11.5px;vertical-align:-3px">n</sub> ( V )</div><div class="t rot" style="left:932.2px;width:600px;top:449.56px;color:#167e88;transform:rotate(90deg)">Maximum Continuous Operating Voltage <i>U</i><sub style="font-size:11.5px;vertical-align:-3px">n</sub> ( V )</div><div class="t rot" style="left:963px;width:600px;top:454.56px;color:#167e88;transform:rotate(90deg)">Model</div>
<div class="b" style="left:131px;top:977.3px;width:1018px;height:24.39px"></div><div class="b" style="left:1151px;top:977.3px;width:66px;height:24.39px"></div><div class="b" style="left:131px;top:1026.08px;width:1018px;height:24.39px"></div><div class="b" style="left:1151px;top:1026.08px;width:66px;height:24.39px"></div><div class="b" style="left:131px;top:1074.86px;width:1018px;height:24.39px"></div><div class="b" style="left:1151px;top:1074.86px;width:66px;height:24.39px"></div><div class="b" style="left:131px;top:1123.64px;width:1018px;height:24.39px"></div><div class="b" style="left:1151px;top:1123.64px;width:66px;height:24.39px"></div><div class="b" style="left:131px;top:1172.42px;width:1018px;height:24.39px"></div><div class="b" style="left:1151px;top:1172.42px;width:66px;height:24.39px"></div><div class="b" style="left:131px;top:1221.2px;width:1018px;height:24.39px"></div><div class="b" style="left:1151px;top:1221.2px;width:66px;height:24.39px"></div><div class="b" style="left:131px;top:1269.98px;width:1018px;height:24.39px"></div><div class="b" style="left:1151px;top:1269.98px;width:66px;height:24.39px"></div><div class="b" style="left:131px;top:1318.76px;width:1018px;height:24.39px"></div><div class="b" style="left:1151px;top:1318.76px;width:66px;height:24.39px"></div><div class="b" style="left:131px;top:1367.54px;width:1018px;height:24.39px"></div><div class="b" style="left:1151px;top:1367.54px;width:66px;height:24.39px"></div><div class="b" style="left:131px;top:1416.32px;width:1018px;height:24.39px"></div><div class="b" style="left:1151px;top:1416.32px;width:66px;height:24.39px"></div><div class="b" style="left:131px;top:1465.1px;width:1018px;height:24.39px"></div><div class="b" style="left:1151px;top:1465.1px;width:66px;height:24.39px"></div><div class="b" style="left:131px;top:1513.88px;width:1018px;height:24.39px"></div><div class="b" style="left:1151px;top:1513.88px;width:66px;height:24.39px"></div><div class="b" style="left:131px;top:1562.66px;width:1018px;height:24.39px"></div><div class="b" style="left:1151px;top:1562.66px;width:66px;height:24.39px"></div><div class="b" style="left:131px;top:1611.44px;width:1018px;height:24.39px"></div><div class="b" style="left:1151px;top:1611.44px;width:66px;height:24.39px"></div><div class="b" style="left:131px;top:1660.22px;width:1018px;height:24.39px"></div><div class="b" style="left:1151px;top:1660.22px;width:66px;height:24.39px"></div><div class="b" style="left:131px;top:1709px;width:1018px;height:24.39px"></div><div class="b" style="left:1151px;top:1709px;width:66px;height:24.39px"></div>
<svg class="a" style="top:0;left:0" width="1280" height="2730" viewBox="0 0 1280 2730"><line x1="334" y1="978.3" x2="334" y2="1779.3" stroke="#d4d4d6" stroke-width="1.6" stroke-linecap="butt"/><line x1="538" y1="978.3" x2="538" y2="1779.3" stroke="#d4d4d6" stroke-width="1.6" stroke-linecap="butt"/><line x1="742" y1="978.3" x2="742" y2="1779.3" stroke="#d4d4d6" stroke-width="1.6" stroke-linecap="butt"/><line x1="946" y1="978.3" x2="946" y2="1779.3" stroke="#d4d4d6" stroke-width="1.6" stroke-linecap="butt"/><line x1="1151" y1="1001.69" x2="1217" y2="1001.69" stroke="#d3d3d3" stroke-width="1" stroke-linecap="butt"/><line x1="1151" y1="1026.08" x2="1217" y2="1026.08" stroke="#d3d3d3" stroke-width="1" stroke-linecap="butt"/><line x1="1151" y1="1050.47" x2="1217" y2="1050.47" stroke="#d3d3d3" stroke-width="1" stroke-linecap="butt"/><line x1="1151" y1="1074.86" x2="1217" y2="1074.86" stroke="#d3d3d3" stroke-width="1" stroke-linecap="butt"/><line x1="1151" y1="1099.25" x2="1217" y2="1099.25" stroke="#d3d3d3" stroke-width="1" stroke-linecap="butt"/><line x1="1151" y1="1123.64" x2="1217" y2="1123.64" stroke="#d3d3d3" stroke-width="1" stroke-linecap="butt"/><line x1="1151" y1="1148.03" x2="1217" y2="1148.03" stroke="#d3d3d3" stroke-width="1" stroke-linecap="butt"/><line x1="1151" y1="1172.42" x2="1217" y2="1172.42" stroke="#d3d3d3" stroke-width="1" stroke-linecap="butt"/><line x1="1151" y1="1196.81" x2="1217" y2="1196.81" stroke="#d3d3d3" stroke-width="1" stroke-linecap="butt"/><line x1="1151" y1="1221.2" x2="1217" y2="1221.2" stroke="#d3d3d3" stroke-width="1" stroke-linecap="butt"/><line x1="1151" y1="1245.59" x2="1217" y2="1245.59" stroke="#d3d3d3" stroke-width="1" stroke-linecap="butt"/><line x1="1151" y1="1269.98" x2="1217" y2="1269.98" stroke="#d3d3d3" stroke-width="1" stroke-linecap="butt"/><line x1="1151" y1="1294.37" x2="1217" y2="1294.37" stroke="#d3d3d3" stroke-width="1" stroke-linecap="butt"/><line x1="1151" y1="1318.76" x2="1217" y2="1318.76" stroke="#d3d3d3" stroke-width="1" stroke-linecap="butt"/><line x1="1151" y1="1343.15" x2="1217" y2="1343.15" stroke="#d3d3d3" stroke-width="1" stroke-linecap="butt"/><line x1="1151" y1="1367.54" x2="1217" y2="1367.54" stroke="#d3d3d3" stroke-width="1" stroke-linecap="butt"/><line x1="1151" y1="1391.93" x2="1217" y2="1391.93" stroke="#d3d3d3" stroke-width="1" stroke-linecap="butt"/><line x1="1151" y1="1416.32" x2="1217" y2="1416.32" stroke="#d3d3d3" stroke-width="1" stroke-linecap="butt"/><line x1="1151" y1="1440.71" x2="1217" y2="1440.71" stroke="#d3d3d3" stroke-width="1" stroke-linecap="butt"/><line x1="1151" y1="1465.1" x2="1217" y2="1465.1" stroke="#d3d3d3" stroke-width="1" stroke-linecap="butt"/><line x1="1151" y1="1489.49" x2="1217" y2="1489.49" stroke="#d3d3d3" stroke-width="1" stroke-linecap="butt"/><line x1="1151" y1="1513.88" x2="1217" y2="1513.88" stroke="#d3d3d3" stroke-width="1" stroke-linecap="butt"/><line x1="1151" y1="1538.27" x2="1217" y2="1538.27" stroke="#d3d3d3" stroke-width="1" stroke-linecap="butt"/><line x1="1151" y1="1562.66" x2="1217" y2="1562.66" stroke="#d3d3d3" stroke-width="1" stroke-linecap="butt"/><line x1="1151" y1="1587.05" x2="1217" y2="1587.05" stroke="#d3d3d3" stroke-width="1" stroke-linecap="butt"/><line x1="1151" y1="1611.44" x2="1217" y2="1611.44" stroke="#d3d3d3" stroke-width="1" stroke-linecap="butt"/><line x1="1151" y1="1635.83" x2="1217" y2="1635.83" stroke="#d3d3d3" stroke-width="1" stroke-linecap="butt"/><line x1="1151" y1="1660.22" x2="1217" y2="1660.22" stroke="#d3d3d3" stroke-width="1" stroke-linecap="butt"/><line x1="1151" y1="1684.61" x2="1217" y2="1684.61" stroke="#d3d3d3" stroke-width="1" stroke-linecap="butt"/><line x1="1151" y1="1709" x2="1217" y2="1709" stroke="#d3d3d3" stroke-width="1" stroke-linecap="butt"/><line x1="1151" y1="1733.39" x2="1217" y2="1733.39" stroke="#d3d3d3" stroke-width="1" stroke-linecap="butt"/><line x1="44" y1="1050.47" x2="85.5" y2="1050.47" stroke="#d3d3d3" stroke-width="1" stroke-linecap="butt"/><line x1="44" y1="1074.86" x2="85.5" y2="1074.86" stroke="#d3d3d3" stroke-width="1" stroke-linecap="butt"/><line x1="44" y1="1123.64" x2="85.5" y2="1123.64" stroke="#d3d3d3" stroke-width="1" stroke-linecap="butt"/><line x1="44" y1="1221.2" x2="85.5" y2="1221.2" stroke="#d3d3d3" stroke-width="1" stroke-linecap="butt"/><line x1="44" y1="1269.98" x2="85.5" y2="1269.98" stroke="#d3d3d3" stroke-width="1" stroke-linecap="butt"/><line x1="44" y1="1367.54" x2="85.5" y2="1367.54" stroke="#d3d3d3" stroke-width="1" stroke-linecap="butt"/><line x1="44" y1="1489.49" x2="85.5" y2="1489.49" stroke="#d3d3d3" stroke-width="1" stroke-linecap="butt"/><line x1="44" y1="1513.88" x2="85.5" y2="1513.88" stroke="#d3d3d3" stroke-width="1" stroke-linecap="butt"/><line x1="44" y1="1538.27" x2="85.5" y2="1538.27" stroke="#d3d3d3" stroke-width="1" stroke-linecap="butt"/><line x1="44" y1="1562.66" x2="85.5" y2="1562.66" stroke="#d3d3d3" stroke-width="1" stroke-linecap="butt"/><line x1="44" y1="1587.05" x2="85.5" y2="1587.05" stroke="#d3d3d3" stroke-width="1" stroke-linecap="butt"/><line x1="44" y1="1611.44" x2="85.5" y2="1611.44" stroke="#d3d3d3" stroke-width="1" stroke-linecap="butt"/><line x1="44" y1="1635.83" x2="85.5" y2="1635.83" stroke="#d3d3d3" stroke-width="1" stroke-linecap="butt"/><line x1="44" y1="1660.22" x2="85.5" y2="1660.22" stroke="#d3d3d3" stroke-width="1" stroke-linecap="butt"/><line x1="44" y1="1684.61" x2="85.5" y2="1684.61" stroke="#d3d3d3" stroke-width="1" stroke-linecap="butt"/><line x1="44" y1="1709" x2="85.5" y2="1709" stroke="#d3d3d3" stroke-width="1" stroke-linecap="butt"/><line x1="44" y1="1733.39" x2="85.5" y2="1733.39" stroke="#d3d3d3" stroke-width="1" stroke-linecap="butt"/><line x1="87" y1="1123.64" x2="128" y2="1123.64" stroke="#d3d3d3" stroke-width="1" stroke-linecap="butt"/><line x1="87" y1="1148.03" x2="128" y2="1148.03" stroke="#d3d3d3" stroke-width="1" stroke-linecap="butt"/><line x1="87" y1="1172.42" x2="128" y2="1172.42" stroke="#d3d3d3" stroke-width="1" stroke-linecap="butt"/><line x1="87" y1="1196.81" x2="128" y2="1196.81" stroke="#d3d3d3" stroke-width="1" stroke-linecap="butt"/><line x1="87" y1="1221.2" x2="128" y2="1221.2" stroke="#d3d3d3" stroke-width="1" stroke-linecap="butt"/><line x1="87" y1="1245.59" x2="128" y2="1245.59" stroke="#d3d3d3" stroke-width="1" stroke-linecap="butt"/><line x1="87" y1="1269.98" x2="128" y2="1269.98" stroke="#d3d3d3" stroke-width="1" stroke-linecap="butt"/><line x1="87" y1="1343.15" x2="128" y2="1343.15" stroke="#d3d3d3" stroke-width="1" stroke-linecap="butt"/><line x1="87" y1="1489.49" x2="128" y2="1489.49" stroke="#d3d3d3" stroke-width="1" stroke-linecap="butt"/><line x1="87" y1="1587.05" x2="128" y2="1587.05" stroke="#d3d3d3" stroke-width="1" stroke-linecap="butt"/><line x1="87" y1="1635.83" x2="128" y2="1635.83" stroke="#d3d3d3" stroke-width="1" stroke-linecap="butt"/><line x1="43.4" y1="976.3" x2="43.4" y2="1779.3" stroke="#0b2a45" stroke-width="1.2" stroke-linecap="butt"/><line x1="86.25" y1="976.3" x2="86.25" y2="1779.3" stroke="#0b2a45" stroke-width="1.3" stroke-linecap="butt"/><line x1="42.8" y1="977.5" x2="1274.4" y2="977.5" stroke="#167e88" stroke-width="2.3" stroke-linecap="butt"/><circle cx="1274.4" cy="977.5" r="1.15" fill="#167e88"/><line x1="1183.9" y1="977.3" x2="1183.9" y2="1779.2" stroke="#167e88" stroke-width="1.6" stroke-linecap="butt"/><line x1="1217.3" y1="977.3" x2="1217.3" y2="1779.2" stroke="#167e88" stroke-width="1.1" stroke-linecap="butt"/><line x1="4" y1="1757.6" x2="1273" y2="1757.6" stroke="#0b2a45" stroke-width="2.4" stroke-linecap="butt"/><polyline points="1259.5,1750.2 1273.1,1757.6 1259.5,1765" fill="none" stroke="#0b2a45" stroke-width="2.5" stroke-linecap="round" stroke-linejoin="round"/><line x1="129.5" y1="944.6" x2="129.5" y2="1779.9" stroke="#0b2a45" stroke-width="2.7" stroke-linecap="butt"/><polyline points="121.8,957.5 129.5,943.9 137.2,957.5" fill="none" stroke="#0b2a45" stroke-width="2.5" stroke-linecap="round" stroke-linejoin="round"/><line x1="1150.5" y1="944.6" x2="1150.5" y2="1779.9" stroke="#167e88" stroke-width="2.5" stroke-linecap="butt"/><polyline points="1142.8,957.5 1150.5,943.9 1158.2,957.5" fill="none" stroke="#167e88" stroke-width="2.5" stroke-linecap="round" stroke-linejoin="round"/></svg>
<div class="t lb" style="left:43.5px;width:42.8px;top:1003.88px">480V</div><div class="t lb" style="left:43.5px;width:42.8px;top:1052.66px">415V</div><div class="t lb" style="left:43.5px;width:42.8px;top:1089.25px">380V</div><div class="t lb" style="left:43.5px;width:42.8px;top:1137.97px">100V</div><div class="t lb" style="left:43.5px;width:42.8px;top:1162.42px">-</div><div class="t lb" style="left:43.5px;width:42.8px;top:1186.87px">240V</div><div class="t lb" style="left:43.5px;width:42.8px;top:1223.14px">100V</div><div class="t lb" style="left:43.5px;width:42.8px;top:1235.59px">-</div><div class="t lb" style="left:43.5px;width:42.8px;top:1248.04px">220V</div><div class="t lb" style="left:43.5px;width:42.8px;top:1284.11px">100V</div><div class="t lb" style="left:43.5px;width:42.8px;top:1308.76px">-</div><div class="t lb" style="left:43.5px;width:42.8px;top:1333.41px">120V</div><div class="t lb" style="left:43.5px;width:42.8px;top:1418.51px">100V</div><div class="t lb" style="left:86.3px;width:42px;top:1040.47px">500V</div><div class="t lb" style="left:86.3px;width:42px;top:1296.57px">250V</div><div class="t lb" style="left:86.3px;width:42px;top:1406.32px">125V</div><div class="t lb" style="left:86.3px;width:42px;top:1528.27px">48V</div><div class="t lb" style="left:86.3px;width:42px;top:1601.44px">24V</div><div class="t lb" style="left:85px;width:42px;top:1686.8px">12V</div>
<div class="t nb" style="left:1151px;width:32.5px;top:980.39px">750</div><div class="t nb" style="left:1184.6px;width:32.5px;top:980.39px">990</div><div class="t nb" style="left:1151px;width:32.5px;top:1004.78px">680</div><div class="t nb" style="left:1184.6px;width:32.5px;top:1004.78px">895</div><div class="t nb" style="left:1151px;width:32.5px;top:1029.18px">625</div><div class="t nb" style="left:1184.6px;width:32.5px;top:1029.18px">825</div><div class="t nb" style="left:1151px;width:32.5px;top:1053.57px">550</div><div class="t nb" style="left:1184.6px;width:32.5px;top:1053.57px">745</div><div class="t nb" style="left:1151px;width:32.5px;top:1077.95px">510</div><div class="t nb" style="left:1184.6px;width:32.5px;top:1077.95px">670</div><div class="t nb" style="left:1151px;width:32.5px;top:1102.35px">460</div><div class="t nb" style="left:1184.6px;width:32.5px;top:1102.35px">615</div><div class="t nb" style="left:1151px;width:32.5px;top:1126.74px">420</div><div class="t nb" style="left:1184.6px;width:32.5px;top:1126.74px">560</div><div class="t nb" style="left:1151px;width:32.5px;top:1151.12px">385</div><div class="t nb" style="left:1184.6px;width:32.5px;top:1151.12px">505</div><div class="t nb" style="left:1151px;width:32.5px;top:1175.52px">350</div><div class="t nb" style="left:1184.6px;width:32.5px;top:1175.52px">460</div><div class="t nb" style="left:1151px;width:32.5px;top:1199.91px">320</div><div class="t nb" style="left:1184.6px;width:32.5px;top:1199.91px">415</div><div class="t nb" style="left:1151px;width:32.5px;top:1224.3px">300</div><div class="t nb" style="left:1184.6px;width:32.5px;top:1224.3px">385</div><div class="t nb" style="left:1151px;width:32.5px;top:1248.68px">275</div><div class="t nb" style="left:1184.6px;width:32.5px;top:1248.68px">350</div><div class="t nb" style="left:1151px;width:32.5px;top:1273.08px">250</div><div class="t nb" style="left:1184.6px;width:32.5px;top:1273.08px">320</div><div class="t nb" style="left:1151px;width:32.5px;top:1297.47px">230</div><div class="t nb" style="left:1184.6px;width:32.5px;top:1297.47px">300</div><div class="t nb" style="left:1151px;width:32.5px;top:1321.86px">210</div><div class="t nb" style="left:1184.6px;width:32.5px;top:1321.86px">275</div><div class="t nb" style="left:1151px;width:32.5px;top:1346.25px">190</div><div class="t nb" style="left:1184.6px;width:32.5px;top:1346.25px">250</div><div class="t nb" style="left:1151px;width:32.5px;top:1370.63px">175</div><div class="t nb" style="left:1184.6px;width:32.5px;top:1370.63px">225</div><div class="t nb" style="left:1151px;width:32.5px;top:1395.03px">150</div><div class="t nb" style="left:1184.6px;width:32.5px;top:1395.03px">200</div><div class="t nb" style="left:1151px;width:32.5px;top:1419.41px">140</div><div class="t nb" style="left:1184.6px;width:32.5px;top:1419.41px">180</div><div class="t nb" style="left:1151px;width:32.5px;top:1443.81px">130</div><div class="t nb" style="left:1184.6px;width:32.5px;top:1443.81px">170</div><div class="t nb" style="left:1151px;width:32.5px;top:1468.2px">115</div><div class="t nb" style="left:1184.6px;width:32.5px;top:1468.2px">150</div><div class="t nb" style="left:1151px;width:32.5px;top:1492.59px">95</div><div class="t nb" style="left:1184.6px;width:32.5px;top:1492.59px">125</div><div class="t nb" style="left:1151px;width:32.5px;top:1516.98px">75</div><div class="t nb" style="left:1184.6px;width:32.5px;top:1516.98px">100</div><div class="t nb" style="left:1151px;width:32.5px;top:1541.37px">60</div><div class="t nb" style="left:1184.6px;width:32.5px;top:1541.37px">85</div><div class="t nb" style="left:1151px;width:32.5px;top:1565.76px">50</div><div class="t nb" style="left:1184.6px;width:32.5px;top:1565.76px">65</div><div class="t nb" style="left:1151px;width:32.5px;top:1590.14px">40</div><div class="t nb" style="left:1184.6px;width:32.5px;top:1590.14px">56</div><div class="t nb" style="left:1151px;width:32.5px;top:1614.54px">35</div><div class="t nb" style="left:1184.6px;width:32.5px;top:1614.54px">45</div><div class="t nb" style="left:1151px;width:32.5px;top:1638.93px">30</div><div class="t nb" style="left:1184.6px;width:32.5px;top:1638.93px">38</div><div class="t nb" style="left:1151px;width:32.5px;top:1663.32px">25</div><div class="t nb" style="left:1184.6px;width:32.5px;top:1663.32px">31</div><div class="t nb" style="left:1151px;width:32.5px;top:1687.71px">20</div><div class="t nb" style="left:1184.6px;width:32.5px;top:1687.71px">26</div><div class="t nb" style="left:1151px;width:32.5px;top:1712.1px">17</div><div class="t nb" style="left:1184.6px;width:32.5px;top:1712.1px">22</div><div class="t nb" style="left:1148.7px;width:32.5px;top:1736.49px">14</div><div class="t nb" style="left:1184.6px;width:32.5px;top:1736.49px">18</div>
<div class="d" style="left:130px;top:1076.36px;width:204px;height:24.39px">SFV7D821KM</div><div class="d" style="left:130px;top:1100.75px;width:204px;height:24.39px">SFV7D751KM</div><div class="d" style="left:130px;top:1125.14px;width:204px;height:24.39px">SFV7D681KM</div><div class="d" style="left:130px;top:1149.53px;width:204px;height:24.39px">SFV7D621KM</div><div class="d" style="left:130px;top:1173.92px;width:204px;height:24.39px">SFV7D561KM</div><div class="d" style="left:130px;top:1198.31px;width:204px;height:24.39px">SFV7D511KM</div><div class="d" style="left:130px;top:1222.7px;width:204px;height:24.39px">SFV7D471KM</div><div class="d" style="left:130px;top:1247.09px;width:204px;height:24.39px">SFV7D431KM</div><div class="d" style="left:130px;top:1271.48px;width:204px;height:24.39px">SFV7D391KM</div><div class="d" style="left:130px;top:1295.87px;width:204px;height:24.39px">SFV7D361KM</div><div class="d" style="left:130px;top:1320.26px;width:204px;height:24.39px">SFV7D331KM</div><div class="d" style="left:130px;top:1344.65px;width:204px;height:24.39px">SFV7D301KM</div><div class="d" style="left:130px;top:1369.04px;width:204px;height:24.39px">SFV7D271KM</div><div class="d" style="left:130px;top:1393.43px;width:204px;height:24.39px">SFV7D241KM</div><div class="d" style="left:130px;top:1417.82px;width:204px;height:24.39px">SFV7D221KM</div><div class="d" style="left:130px;top:1442.21px;width:204px;height:24.39px">SFV7D201KM</div><div class="d" style="left:130px;top:1466.6px;width:204px;height:24.39px">SFV7D181KM</div><div class="d" style="left:130px;top:1490.99px;width:204px;height:24.39px">SFV7D151KM</div><div class="d" style="left:130px;top:1515.38px;width:204px;height:24.39px">SFV7D121KM</div><div class="d" style="left:130px;top:1539.77px;width:204px;height:24.39px">SFV7D101KM</div><div class="d" style="left:130px;top:1564.16px;width:204px;height:24.39px">SFV7D820KM</div>
<div class="d" style="left:334px;top:978.8px;width:204px;height:24.39px">SFV10D122KM</div><div class="d" style="left:334px;top:1003.19px;width:204px;height:24.39px">SFV10D112KM</div><div class="d" style="left:334px;top:1027.58px;width:204px;height:24.39px">SFV10D102KM</div><div class="d" style="left:334px;top:1051.97px;width:204px;height:24.39px">SFV10D911KM</div><div class="d" style="left:334px;top:1076.36px;width:204px;height:24.39px">SFV10D821KM</div><div class="d" style="left:334px;top:1100.75px;width:204px;height:24.39px">SFV10D751KM</div><div class="d" style="left:334px;top:1125.14px;width:204px;height:24.39px">SFV10D681KM</div><div class="d" style="left:334px;top:1149.53px;width:204px;height:24.39px">SFV10D621KM</div><div class="d" style="left:334px;top:1173.92px;width:204px;height:24.39px">SFV10D561KM</div><div class="d" style="left:334px;top:1198.31px;width:204px;height:24.39px">SFV10D511KM</div><div class="d" style="left:334px;top:1222.7px;width:204px;height:24.39px">SFV10D471KM</div><div class="d" style="left:334px;top:1247.09px;width:204px;height:24.39px">SFV10D431KM</div><div class="d" style="left:334px;top:1271.48px;width:204px;height:24.39px">SFV10D391KM</div><div class="d" style="left:334px;top:1295.87px;width:204px;height:24.39px">SFV10D361KM</div><div class="d" style="left:334px;top:1320.26px;width:204px;height:24.39px">SFV10D331KM</div><div class="d" style="left:334px;top:1344.65px;width:204px;height:24.39px">SFV10D301KM</div><div class="d" style="left:334px;top:1369.04px;width:204px;height:24.39px">SFV10D271KM</div><div class="d" style="left:334px;top:1393.43px;width:204px;height:24.39px">SFV10D241KM</div><div class="d" style="left:334px;top:1417.82px;width:204px;height:24.39px">SFV10D221KM</div><div class="d" style="left:334px;top:1442.21px;width:204px;height:24.39px">SFV10D201KM</div><div class="d" style="left:334px;top:1466.6px;width:204px;height:24.39px">SFV10D181KM</div><div class="d" style="left:334px;top:1490.99px;width:204px;height:24.39px">SFV10D151KM</div><div class="d" style="left:334px;top:1515.38px;width:204px;height:24.39px">SFV10D121KM</div><div class="d" style="left:334px;top:1539.77px;width:204px;height:24.39px">SFV10D101KM</div><div class="d" style="left:334px;top:1564.16px;width:204px;height:24.39px">SFV10D820KM</div>
<div class="d" style="left:538px;top:978.8px;width:204px;height:24.39px">SFV14D122KM</div><div class="d" style="left:538px;top:1003.19px;width:204px;height:24.39px">SFV14D112KM</div><div class="d" style="left:538px;top:1027.58px;width:204px;height:24.39px">SFV14D102KM</div><div class="d" style="left:538px;top:1051.97px;width:204px;height:24.39px">SFV14D911KM</div><div class="d" style="left:538px;top:1076.36px;width:204px;height:24.39px">SFV14D821KM</div><div class="d" style="left:538px;top:1100.75px;width:204px;height:24.39px">SFV14D751KM</div><div class="d" style="left:538px;top:1125.14px;width:204px;height:24.39px">SFV14D681KM</div><div class="d" style="left:538px;top:1149.53px;width:204px;height:24.39px">SFV14D621KM</div><div class="d" style="left:538px;top:1173.92px;width:204px;height:24.39px">SFV14D561KM</div><div class="d" style="left:538px;top:1198.31px;width:204px;height:24.39px">SFV14D511KM</div><div class="d" style="left:538px;top:1222.7px;width:204px;height:24.39px">SFV14D471KM</div><div class="d" style="left:538px;top:1247.09px;width:204px;height:24.39px">SFV14D431KM</div><div class="d" style="left:538px;top:1271.48px;width:204px;height:24.39px">SFV14D391KM</div><div class="d" style="left:538px;top:1295.87px;width:204px;height:24.39px">SFV14D361KM</div><div class="d" style="left:538px;top:1320.26px;width:204px;height:24.39px">SFV14D331KM</div><div class="d" style="left:538px;top:1344.65px;width:204px;height:24.39px">SFV14D301KM</div><div class="d" style="left:538px;top:1369.04px;width:204px;height:24.39px">SFV14D271KM</div><div class="d" style="left:538px;top:1393.43px;width:204px;height:24.39px">SFV14D241KM</div><div class="d" style="left:538px;top:1417.82px;width:204px;height:24.39px">SFV14D221KM</div><div class="d" style="left:538px;top:1442.21px;width:204px;height:24.39px">SFV14D201KM</div><div class="d" style="left:538px;top:1466.6px;width:204px;height:24.39px">SFV14D181KM</div><div class="d" style="left:538px;top:1490.99px;width:204px;height:24.39px">SFV14D151KM</div><div class="d" style="left:538px;top:1515.38px;width:204px;height:24.39px">SFV14D121KM</div><div class="d" style="left:538px;top:1539.77px;width:204px;height:24.39px">SFV14D101KM</div><div class="d" style="left:538px;top:1564.16px;width:204px;height:24.39px">SFV14D820KM</div><div class="d" style="left:538px;top:1588.55px;width:204px;height:24.39px">SFV25D680KM</div><div class="d" style="left:538px;top:1612.94px;width:204px;height:24.39px">SFV25D560KM</div><div class="d" style="left:538px;top:1637.33px;width:204px;height:24.39px">SFV25D470KM</div>
<div class="d" style="left:742px;top:978.8px;width:204px;height:24.39px">SFV20D122KM</div><div class="d" style="left:742px;top:1003.19px;width:204px;height:24.39px">SFV20D112KM</div><div class="d" style="left:742px;top:1027.58px;width:204px;height:24.39px">SFV20D102KM</div><div class="d" style="left:742px;top:1051.97px;width:204px;height:24.39px">SFV20D911KM</div><div class="d" style="left:742px;top:1076.36px;width:204px;height:24.39px">SFV20D821KM</div><div class="d" style="left:742px;top:1100.75px;width:204px;height:24.39px">SFV20D751KM</div><div class="d" style="left:742px;top:1125.14px;width:204px;height:24.39px">SFV20D681KM</div><div class="d" style="left:742px;top:1149.53px;width:204px;height:24.39px">SFV20D621KM</div><div class="d" style="left:742px;top:1173.92px;width:204px;height:24.39px">SFV20D561KM</div><div class="d" style="left:742px;top:1198.31px;width:204px;height:24.39px">SFV20D511KM</div><div class="d" style="left:742px;top:1222.7px;width:204px;height:24.39px">SFV20D471KM</div><div class="d" style="left:742px;top:1247.09px;width:204px;height:24.39px">SFV20D431KM</div><div class="d" style="left:742px;top:1271.48px;width:204px;height:24.39px">SFV20D391KM</div><div class="d" style="left:742px;top:1295.87px;width:204px;height:24.39px">SFV20D361KM</div><div class="d" style="left:742px;top:1320.26px;width:204px;height:24.39px">SFV20D331KM</div><div class="d" style="left:742px;top:1344.65px;width:204px;height:24.39px">SFV20D301KM</div><div class="d" style="left:742px;top:1369.04px;width:204px;height:24.39px">SFV20D271KM</div><div class="d" style="left:742px;top:1393.43px;width:204px;height:24.39px">SFV20D241KM</div><div class="d" style="left:742px;top:1417.82px;width:204px;height:24.39px">SFV20D221KM</div><div class="d" style="left:742px;top:1442.21px;width:204px;height:24.39px">SFV20D201KM</div><div class="d" style="left:742px;top:1466.6px;width:204px;height:24.39px">SFV20D181KM</div><div class="d" style="left:742px;top:1490.99px;width:204px;height:24.39px">SFV20D151KM</div><div class="d" style="left:742px;top:1515.38px;width:204px;height:24.39px">SFV20D121KM</div><div class="d" style="left:742px;top:1539.77px;width:204px;height:24.39px">SFV20D101KM</div><div class="d" style="left:742px;top:1564.16px;width:204px;height:24.39px">SFV20D820KM</div>
<div class="d" style="left:946px;top:978.8px;width:204.3px;height:24.39px">SFV25D122KM</div><div class="d" style="left:946px;top:1003.19px;width:204.3px;height:24.39px">SFV25D112KM</div><div class="d" style="left:946px;top:1027.58px;width:204.3px;height:24.39px">SFV25D102KM</div><div class="d" style="left:946px;top:1051.97px;width:204.3px;height:24.39px">SFV25D911KM</div><div class="d" style="left:946px;top:1076.36px;width:204.3px;height:24.39px">SFV25D821KM</div><div class="d" style="left:946px;top:1100.75px;width:204.3px;height:24.39px">SFV25D751KM</div><div class="d" style="left:946px;top:1125.14px;width:204.3px;height:24.39px">SFV25D681KM</div><div class="d" style="left:946px;top:1149.53px;width:204.3px;height:24.39px">SFV25D621KM</div><div class="d" style="left:946px;top:1173.92px;width:204.3px;height:24.39px">SFV25D561KM</div><div class="d" style="left:946px;top:1198.31px;width:204.3px;height:24.39px">SFV25D511KM</div><div class="d" style="left:946px;top:1222.7px;width:204.3px;height:24.39px">SFV25D471KM</div><div class="d" style="left:946px;top:1247.09px;width:204.3px;height:24.39px">SFV25D431KM</div><div class="d" style="left:946px;top:1271.48px;width:204.3px;height:24.39px">SFV25D391KM</div><div class="d" style="left:946px;top:1295.87px;width:204.3px;height:24.39px">SFV25D361KM</div><div class="d" style="left:946px;top:1320.26px;width:204.3px;height:24.39px">SFV25D331KM</div><div class="d" style="left:946px;top:1344.65px;width:204.3px;height:24.39px">SFV25D301KM</div><div class="d" style="left:946px;top:1369.04px;width:204.3px;height:24.39px">SFV25D271KM</div><div class="d" style="left:946px;top:1393.43px;width:204.3px;height:24.39px">SFV25D241KM</div><div class="d" style="left:946px;top:1417.82px;width:204.3px;height:24.39px">SFV25D221KM</div><div class="d" style="left:946px;top:1442.21px;width:204.3px;height:24.39px">SFV25D201KM</div><div class="d" style="left:946px;top:1466.6px;width:204.3px;height:24.39px">SFV25D181KM</div><div class="d" style="left:946px;top:1490.99px;width:204.3px;height:24.39px">SFV25D151KM</div><div class="d" style="left:946px;top:1515.38px;width:204.3px;height:24.39px">SFV25D121KM</div><div class="d" style="left:946px;top:1539.77px;width:204.3px;height:24.39px">SFV25D101KM</div><div class="d" style="left:946px;top:1564.16px;width:204.3px;height:24.39px">SFV25D820KM</div>
<svg class="a" style="top:0;left:0" width="1280" height="2730" viewBox="0 0 1280 2730"><g fill="none" stroke="#bcbcbc" stroke-width="1"><circle cx="232" cy="989.69" r="3.2"/><circle cx="232" cy="1014.09" r="3.2"/><circle cx="232" cy="1038.48" r="3.2"/><circle cx="232" cy="1062.87" r="3.2"/><circle cx="232" cy="1599.44" r="3.2"/><circle cx="232" cy="1623.84" r="3.2"/><circle cx="232" cy="1648.23" r="3.2"/><circle cx="232" cy="1672.62" r="3.2"/><circle cx="232" cy="1697.01" r="3.2"/><circle cx="232" cy="1721.39" r="3.2"/><circle cx="232" cy="1745.79" r="3.2"/><circle cx="436" cy="1599.44" r="3.2"/><circle cx="436" cy="1623.84" r="3.2"/><circle cx="436" cy="1648.23" r="3.2"/><circle cx="436" cy="1672.62" r="3.2"/><circle cx="436" cy="1697.01" r="3.2"/><circle cx="436" cy="1721.39" r="3.2"/><circle cx="436" cy="1745.79" r="3.2"/><circle cx="640" cy="1672.62" r="3.2"/><circle cx="640" cy="1697.01" r="3.2"/><circle cx="640" cy="1721.39" r="3.2"/><circle cx="640" cy="1745.79" r="3.2"/><circle cx="844" cy="1599.44" r="3.2"/><circle cx="844" cy="1623.84" r="3.2"/><circle cx="844" cy="1648.23" r="3.2"/><circle cx="844" cy="1672.62" r="3.2"/><circle cx="844" cy="1697.01" r="3.2"/><circle cx="844" cy="1721.39" r="3.2"/><circle cx="844" cy="1745.79" r="3.2"/><circle cx="1048.15" cy="1599.44" r="3.2"/><circle cx="1048.15" cy="1623.84" r="3.2"/><circle cx="1048.15" cy="1648.23" r="3.2"/><circle cx="1048.15" cy="1672.62" r="3.2"/><circle cx="1048.15" cy="1697.01" r="3.2"/><circle cx="1048.15" cy="1721.39" r="3.2"/><circle cx="1048.15" cy="1745.79" r="3.2"/></g></svg>
<div class="t bl" style="left:130px;width:204px;top:1759.6px">1.75</div><div class="t bl" style="left:334px;width:204px;top:1759.6px">3.5</div><div class="t bl" style="left:538px;width:204px;top:1759.6px">6</div><div class="t bl" style="left:742px;width:204px;top:1759.6px">10</div><div class="t bl" style="left:946px;width:204.3px;top:1759.6px">20</div><div class="t lb" style="left:43.5px;width:42.8px;top:1761.4px;font-size:17px;transform:none">AC</div><div class="t lb" style="left:86.3px;width:42px;top:1761.4px;font-size:17px;transform:none">DC</div><div class="t nb" style="left:1151px;width:32.5px;top:1761.1px">AC</div><div class="t nb" style="left:1184.6px;width:32.5px;top:1761.1px">DC</div><div class="t xt" style="left:0;width:1280px;top:1788.2px">Maximum Peak Current (8/20 μs) (kA)</div><div class="t rot" style="left:-200px;width:600px;top:1352.69px;color:#12479a;font-size:20.3px;transform:translateX(-74.2px) rotate(-90deg)">Nominal Operating Voltage <i style="font-weight:normal">U</i><sub style="font-size:11.5px;vertical-align:-3px">n</sub> ( V )</div><div class="t rot" style="left:932.2px;width:600px;top:1350.54px;color:#167e88;transform:rotate(90deg)">Maximum Continuous Operating Voltage <i>U</i><sub style="font-size:11.5px;vertical-align:-3px">n</sub> ( V )</div><div class="t rot" style="left:963px;width:600px;top:1355.54px;color:#167e88;transform:rotate(90deg)">Model</div>
<div class="b" style="left:131px;top:1877.9px;width:1018px;height:22.67px"></div><div class="b" style="left:1151px;top:1877.9px;width:66px;height:22.67px"></div><div class="b" style="left:131px;top:1923.24px;width:1018px;height:22.67px"></div><div class="b" style="left:1151px;top:1923.24px;width:66px;height:22.67px"></div><div class="b" style="left:131px;top:1968.58px;width:1018px;height:22.67px"></div><div class="b" style="left:1151px;top:1968.58px;width:66px;height:22.67px"></div><div class="b" style="left:131px;top:2013.92px;width:1018px;height:22.67px"></div><div class="b" style="left:1151px;top:2013.92px;width:66px;height:22.67px"></div><div class="b" style="left:131px;top:2059.26px;width:1018px;height:22.67px"></div><div class="b" style="left:1151px;top:2059.26px;width:66px;height:22.67px"></div><div class="b" style="left:131px;top:2104.6px;width:1018px;height:22.67px"></div><div class="b" style="left:1151px;top:2104.6px;width:66px;height:22.67px"></div><div class="b" style="left:131px;top:2149.94px;width:1018px;height:22.67px"></div><div class="b" style="left:1151px;top:2149.94px;width:66px;height:22.67px"></div><div class="b" style="left:131px;top:2195.28px;width:1018px;height:22.67px"></div><div class="b" style="left:1151px;top:2195.28px;width:66px;height:22.67px"></div><div class="b" style="left:131px;top:2240.62px;width:1018px;height:22.67px"></div><div class="b" style="left:1151px;top:2240.62px;width:66px;height:22.67px"></div><div class="b" style="left:131px;top:2285.96px;width:1018px;height:22.67px"></div><div class="b" style="left:1151px;top:2285.96px;width:66px;height:22.67px"></div><div class="b" style="left:131px;top:2331.3px;width:1018px;height:22.67px"></div><div class="b" style="left:1151px;top:2331.3px;width:66px;height:22.67px"></div><div class="b" style="left:131px;top:2376.64px;width:1018px;height:22.67px"></div><div class="b" style="left:1151px;top:2376.64px;width:66px;height:22.67px"></div><div class="b" style="left:131px;top:2421.98px;width:1018px;height:22.67px"></div><div class="b" style="left:1151px;top:2421.98px;width:66px;height:22.67px"></div><div class="b" style="left:131px;top:2467.32px;width:1018px;height:22.67px"></div><div class="b" style="left:1151px;top:2467.32px;width:66px;height:22.67px"></div><div class="b" style="left:131px;top:2512.66px;width:1018px;height:33.2px"></div><div class="b" style="left:1151px;top:2512.66px;width:66px;height:33.2px"></div><div class="b" style="left:131px;top:2579.06px;width:1018px;height:33.2px"></div><div class="b" style="left:1151px;top:2579.06px;width:66px;height:33.2px"></div>
<svg class="a" style="top:0;left:0" width="1280" height="2730" viewBox="0 0 1280 2730"><line x1="231.6" y1="1878.9" x2="231.6" y2="2680.1" stroke="#d4d4d6" stroke-width="1.6" stroke-linecap="butt"/><line x1="334" y1="1878.9" x2="334" y2="2680.1" stroke="#d4d4d6" stroke-width="1.6" stroke-linecap="butt"/><line x1="436" y1="1878.9" x2="436" y2="2680.1" stroke="#d4d4d6" stroke-width="1.6" stroke-linecap="butt"/><line x1="538" y1="1878.9" x2="538" y2="2680.1" stroke="#d4d4d6" stroke-width="1.6" stroke-linecap="butt"/><line x1="640" y1="1878.9" x2="640" y2="2680.1" stroke="#d4d4d6" stroke-width="1.6" stroke-linecap="butt"/><line x1="742" y1="1878.9" x2="742" y2="2680.1" stroke="#d4d4d6" stroke-width="1.6" stroke-linecap="butt"/><line x1="844" y1="1878.9" x2="844" y2="2680.1" stroke="#d4d4d6" stroke-width="1.6" stroke-linecap="butt"/><line x1="946" y1="1878.9" x2="946" y2="2680.1" stroke="#d4d4d6" stroke-width="1.6" stroke-linecap="butt"/><line x1="1048" y1="1878.9" x2="1048" y2="2680.1" stroke="#d4d4d6" stroke-width="1.6" stroke-linecap="butt"/><line x1="1151" y1="1900.57" x2="1217" y2="1900.57" stroke="#d3d3d3" stroke-width="1" stroke-linecap="butt"/><line x1="1151" y1="1923.24" x2="1217" y2="1923.24" stroke="#d3d3d3" stroke-width="1" stroke-linecap="butt"/><line x1="1151" y1="1945.91" x2="1217" y2="1945.91" stroke="#d3d3d3" stroke-width="1" stroke-linecap="butt"/><line x1="1151" y1="1968.58" x2="1217" y2="1968.58" stroke="#d3d3d3" stroke-width="1" stroke-linecap="butt"/><line x1="1151" y1="1991.25" x2="1217" y2="1991.25" stroke="#d3d3d3" stroke-width="1" stroke-linecap="butt"/><line x1="1151" y1="2013.92" x2="1217" y2="2013.92" stroke="#d3d3d3" stroke-width="1" stroke-linecap="butt"/><line x1="1151" y1="2036.59" x2="1217" y2="2036.59" stroke="#d3d3d3" stroke-width="1" stroke-linecap="butt"/><line x1="1151" y1="2059.26" x2="1217" y2="2059.26" stroke="#d3d3d3" stroke-width="1" stroke-linecap="butt"/><line x1="1151" y1="2081.93" x2="1217" y2="2081.93" stroke="#d3d3d3" stroke-width="1" stroke-linecap="butt"/><line x1="1151" y1="2104.6" x2="1217" y2="2104.6" stroke="#d3d3d3" stroke-width="1" stroke-linecap="butt"/><line x1="1151" y1="2127.27" x2="1217" y2="2127.27" stroke="#d3d3d3" stroke-width="1" stroke-linecap="butt"/><line x1="1151" y1="2149.94" x2="1217" y2="2149.94" stroke="#d3d3d3" stroke-width="1" stroke-linecap="butt"/><line x1="1151" y1="2172.61" x2="1217" y2="2172.61" stroke="#d3d3d3" stroke-width="1" stroke-linecap="butt"/><line x1="1151" y1="2195.28" x2="1217" y2="2195.28" stroke="#d3d3d3" stroke-width="1" stroke-linecap="butt"/><line x1="1151" y1="2217.95" x2="1217" y2="2217.95" stroke="#d3d3d3" stroke-width="1" stroke-linecap="butt"/><line x1="1151" y1="2240.62" x2="1217" y2="2240.62" stroke="#d3d3d3" stroke-width="1" stroke-linecap="butt"/><line x1="1151" y1="2263.29" x2="1217" y2="2263.29" stroke="#d3d3d3" stroke-width="1" stroke-linecap="butt"/><line x1="1151" y1="2285.96" x2="1217" y2="2285.96" stroke="#d3d3d3" stroke-width="1" stroke-linecap="butt"/><line x1="1151" y1="2308.63" x2="1217" y2="2308.63" stroke="#d3d3d3" stroke-width="1" stroke-linecap="butt"/><line x1="1151" y1="2331.3" x2="1217" y2="2331.3" stroke="#d3d3d3" stroke-width="1" stroke-linecap="butt"/><line x1="1151" y1="2353.97" x2="1217" y2="2353.97" stroke="#d3d3d3" stroke-width="1" stroke-linecap="butt"/><line x1="1151" y1="2376.64" x2="1217" y2="2376.64" stroke="#d3d3d3" stroke-width="1" stroke-linecap="butt"/><line x1="1151" y1="2399.31" x2="1217" y2="2399.31" stroke="#d3d3d3" stroke-width="1" stroke-linecap="butt"/><line x1="1151" y1="2421.98" x2="1217" y2="2421.98" stroke="#d3d3d3" stroke-width="1" stroke-linecap="butt"/><line x1="1151" y1="2444.65" x2="1217" y2="2444.65" stroke="#d3d3d3" stroke-width="1" stroke-linecap="butt"/><line x1="1151" y1="2467.32" x2="1217" y2="2467.32" stroke="#d3d3d3" stroke-width="1" stroke-linecap="butt"/><line x1="1151" y1="2489.99" x2="1217" y2="2489.99" stroke="#d3d3d3" stroke-width="1" stroke-linecap="butt"/><line x1="1151" y1="2512.66" x2="1217" y2="2512.66" stroke="#d3d3d3" stroke-width="1" stroke-linecap="butt"/><line x1="1151" y1="2545.86" x2="1217" y2="2545.86" stroke="#d3d3d3" stroke-width="1" stroke-linecap="butt"/><line x1="1151" y1="2579.06" x2="1217" y2="2579.06" stroke="#d3d3d3" stroke-width="1" stroke-linecap="butt"/><line x1="1151" y1="2612.26" x2="1217" y2="2612.26" stroke="#d3d3d3" stroke-width="1" stroke-linecap="butt"/><line x1="44" y1="1945.91" x2="85.5" y2="1945.91" stroke="#d3d3d3" stroke-width="1" stroke-linecap="butt"/><line x1="44" y1="1968.58" x2="85.5" y2="1968.58" stroke="#d3d3d3" stroke-width="1" stroke-linecap="butt"/><line x1="44" y1="2013.92" x2="85.5" y2="2013.92" stroke="#d3d3d3" stroke-width="1" stroke-linecap="butt"/><line x1="44" y1="2104.6" x2="85.5" y2="2104.6" stroke="#d3d3d3" stroke-width="1" stroke-linecap="butt"/><line x1="44" y1="2149.94" x2="85.5" y2="2149.94" stroke="#d3d3d3" stroke-width="1" stroke-linecap="butt"/><line x1="44" y1="2285.96" x2="85.5" y2="2285.96" stroke="#d3d3d3" stroke-width="1" stroke-linecap="butt"/><line x1="44" y1="2353.97" x2="85.5" y2="2353.97" stroke="#d3d3d3" stroke-width="1" stroke-linecap="butt"/><line x1="44" y1="2376.64" x2="85.5" y2="2376.64" stroke="#d3d3d3" stroke-width="1" stroke-linecap="butt"/><line x1="44" y1="2399.31" x2="85.5" y2="2399.31" stroke="#d3d3d3" stroke-width="1" stroke-linecap="butt"/><line x1="44" y1="2421.98" x2="85.5" y2="2421.98" stroke="#d3d3d3" stroke-width="1" stroke-linecap="butt"/><line x1="44" y1="2444.65" x2="85.5" y2="2444.65" stroke="#d3d3d3" stroke-width="1" stroke-linecap="butt"/><line x1="44" y1="2467.32" x2="85.5" y2="2467.32" stroke="#d3d3d3" stroke-width="1" stroke-linecap="butt"/><line x1="44" y1="2489.99" x2="85.5" y2="2489.99" stroke="#d3d3d3" stroke-width="1" stroke-linecap="butt"/><line x1="44" y1="2512.66" x2="85.5" y2="2512.66" stroke="#d3d3d3" stroke-width="1" stroke-linecap="butt"/><line x1="44" y1="2545.86" x2="85.5" y2="2545.86" stroke="#d3d3d3" stroke-width="1" stroke-linecap="butt"/><line x1="44" y1="2579.06" x2="85.5" y2="2579.06" stroke="#d3d3d3" stroke-width="1" stroke-linecap="butt"/><line x1="44" y1="2612.26" x2="85.5" y2="2612.26" stroke="#d3d3d3" stroke-width="1" stroke-linecap="butt"/><line x1="87" y1="2013.92" x2="128" y2="2013.92" stroke="#d3d3d3" stroke-width="1" stroke-linecap="butt"/><line x1="87" y1="2036.59" x2="128" y2="2036.59" stroke="#d3d3d3" stroke-width="1" stroke-linecap="butt"/><line x1="87" y1="2059.26" x2="128" y2="2059.26" stroke="#d3d3d3" stroke-width="1" stroke-linecap="butt"/><line x1="87" y1="2081.93" x2="128" y2="2081.93" stroke="#d3d3d3" stroke-width="1" stroke-linecap="butt"/><line x1="87" y1="2104.6" x2="128" y2="2104.6" stroke="#d3d3d3" stroke-width="1" stroke-linecap="butt"/><line x1="87" y1="2127.27" x2="128" y2="2127.27" stroke="#d3d3d3" stroke-width="1" stroke-linecap="butt"/><line x1="87" y1="2149.94" x2="128" y2="2149.94" stroke="#d3d3d3" stroke-width="1" stroke-linecap="butt"/><line x1="87" y1="2217.95" x2="128" y2="2217.95" stroke="#d3d3d3" stroke-width="1" stroke-linecap="butt"/><line x1="87" y1="2353.97" x2="128" y2="2353.97" stroke="#d3d3d3" stroke-width="1" stroke-linecap="butt"/><line x1="87" y1="2444.65" x2="128" y2="2444.65" stroke="#d3d3d3" stroke-width="1" stroke-linecap="butt"/><line x1="87" y1="2489.99" x2="128" y2="2489.99" stroke="#d3d3d3" stroke-width="1" stroke-linecap="butt"/><line x1="43.4" y1="1876.9" x2="43.4" y2="2680.1" stroke="#0b2a45" stroke-width="1.2" stroke-linecap="butt"/><line x1="86.25" y1="1876.9" x2="86.25" y2="2680.1" stroke="#0b2a45" stroke-width="1.3" stroke-linecap="butt"/><line x1="42.8" y1="1878.3" x2="1274.4" y2="1878.3" stroke="#167e88" stroke-width="2.3" stroke-linecap="butt"/><circle cx="1274.4" cy="1878.3" r="1.15" fill="#167e88"/><line x1="1183.9" y1="1877.9" x2="1183.9" y2="2680" stroke="#167e88" stroke-width="1.6" stroke-linecap="butt"/><line x1="1217.3" y1="1877.9" x2="1217.3" y2="2680" stroke="#167e88" stroke-width="1.1" stroke-linecap="butt"/><line x1="4" y1="2658.4" x2="1273" y2="2658.4" stroke="#0b2a45" stroke-width="2.4" stroke-linecap="butt"/><polyline points="1259.5,2651 1273.1,2658.4 1259.5,2665.8" fill="none" stroke="#0b2a45" stroke-width="2.5" stroke-linecap="round" stroke-linejoin="round"/><line x1="129.5" y1="1845.4" x2="129.5" y2="2680.7" stroke="#0b2a45" stroke-width="2.7" stroke-linecap="butt"/><polyline points="121.8,1858.3 129.5,1844.7 137.2,1858.3" fill="none" stroke="#0b2a45" stroke-width="2.5" stroke-linecap="round" stroke-linejoin="round"/><line x1="1150.5" y1="1845.4" x2="1150.5" y2="2680.7" stroke="#167e88" stroke-width="2.5" stroke-linecap="butt"/><polyline points="1142.8,1858.3 1150.5,1844.7 1158.2,1858.3" fill="none" stroke="#167e88" stroke-width="2.5" stroke-linecap="round" stroke-linejoin="round"/></svg>
<div class="t lb" style="left:43.5px;width:42.8px;top:1901.91px">480V</div><div class="t lb" style="left:43.5px;width:42.8px;top:1947.25px">415V</div><div class="t lb" style="left:43.5px;width:42.8px;top:1981.25px">380V</div><div class="t lb" style="left:43.5px;width:42.8px;top:2026.26px">100V</div><div class="t lb" style="left:43.5px;width:42.8px;top:2049.26px">-</div><div class="t lb" style="left:43.5px;width:42.8px;top:2072.26px">240V</div><div class="t lb" style="left:43.5px;width:42.8px;top:2105.77px">100V</div><div class="t lb" style="left:43.5px;width:42.8px;top:2117.27px">-</div><div class="t lb" style="left:43.5px;width:42.8px;top:2128.77px">220V</div><div class="t lb" style="left:43.5px;width:42.8px;top:2179.45px">100V</div><div class="t lb" style="left:43.5px;width:42.8px;top:2204.75px">-</div><div class="t lb" style="left:43.5px;width:42.8px;top:2230.05px">120V</div><div class="t lb" style="left:43.5px;width:42.8px;top:2309.97px">100V</div><div class="t lb" style="left:86.3px;width:42px;top:1935.91px">500V</div><div class="t lb" style="left:86.3px;width:42px;top:2173.95px">250V</div><div class="t lb" style="left:86.3px;width:42px;top:2275.96px">125V</div><div class="t lb" style="left:86.3px;width:42px;top:2389.31px">48V</div><div class="t lb" style="left:86.3px;width:42px;top:2457.32px">24V</div><div class="t lb" style="left:86.3px;width:42px;top:2564.27px">12V</div>
<div class="t nb" style="left:1151px;width:32.5px;top:1880.14px">750</div><div class="t nb" style="left:1184.6px;width:32.5px;top:1880.14px">990</div><div class="t nb" style="left:1151px;width:32.5px;top:1902.81px">680</div><div class="t nb" style="left:1184.6px;width:32.5px;top:1902.81px">895</div><div class="t nb" style="left:1151px;width:32.5px;top:1925.48px">625</div><div class="t nb" style="left:1184.6px;width:32.5px;top:1925.48px">825</div><div class="t nb" style="left:1151px;width:32.5px;top:1948.15px">550</div><div class="t nb" style="left:1184.6px;width:32.5px;top:1948.15px">745</div><div class="t nb" style="left:1151px;width:32.5px;top:1970.82px">510</div><div class="t nb" style="left:1184.6px;width:32.5px;top:1970.82px">670</div><div class="t nb" style="left:1151px;width:32.5px;top:1993.49px">460</div><div class="t nb" style="left:1184.6px;width:32.5px;top:1993.49px">615</div><div class="t nb" style="left:1151px;width:32.5px;top:2016.16px">420</div><div class="t nb" style="left:1184.6px;width:32.5px;top:2016.16px">560</div><div class="t nb" style="left:1151px;width:32.5px;top:2038.83px">385</div><div class="t nb" style="left:1184.6px;width:32.5px;top:2038.83px">505</div><div class="t nb" style="left:1151px;width:32.5px;top:2061.5px">350</div><div class="t nb" style="left:1184.6px;width:32.5px;top:2061.5px">460</div><div class="t nb" style="left:1151px;width:32.5px;top:2084.17px">320</div><div class="t nb" style="left:1184.6px;width:32.5px;top:2084.17px">415</div><div class="t nb" style="left:1151px;width:32.5px;top:2106.84px">300</div><div class="t nb" style="left:1184.6px;width:32.5px;top:2106.84px">385</div><div class="t nb" style="left:1151px;width:32.5px;top:2129.51px">275</div><div class="t nb" style="left:1184.6px;width:32.5px;top:2129.51px">350</div><div class="t nb" style="left:1151px;width:32.5px;top:2152.18px">250</div><div class="t nb" style="left:1184.6px;width:32.5px;top:2152.18px">320</div><div class="t nb" style="left:1151px;width:32.5px;top:2174.85px">230</div><div class="t nb" style="left:1184.6px;width:32.5px;top:2174.85px">300</div><div class="t nb" style="left:1151px;width:32.5px;top:2197.52px">210</div><div class="t nb" style="left:1184.6px;width:32.5px;top:2197.52px">275</div><div class="t nb" style="left:1151px;width:32.5px;top:2220.18px">190</div><div class="t nb" style="left:1184.6px;width:32.5px;top:2220.18px">250</div><div class="t nb" style="left:1151px;width:32.5px;top:2242.86px">175</div><div class="t nb" style="left:1184.6px;width:32.5px;top:2242.86px">225</div><div class="t nb" style="left:1151px;width:32.5px;top:2265.53px">150</div><div class="t nb" style="left:1184.6px;width:32.5px;top:2265.53px">200</div><div class="t nb" style="left:1151px;width:32.5px;top:2288.2px">140</div><div class="t nb" style="left:1184.6px;width:32.5px;top:2288.2px">180</div><div class="t nb" style="left:1151px;width:32.5px;top:2310.87px">130</div><div class="t nb" style="left:1184.6px;width:32.5px;top:2310.87px">170</div><div class="t nb" style="left:1151px;width:32.5px;top:2333.54px">115</div><div class="t nb" style="left:1184.6px;width:32.5px;top:2333.54px">150</div><div class="t nb" style="left:1151px;width:32.5px;top:2356.21px">95</div><div class="t nb" style="left:1184.6px;width:32.5px;top:2356.21px">125</div><div class="t nb" style="left:1151px;width:32.5px;top:2378.88px">75</div><div class="t nb" style="left:1184.6px;width:32.5px;top:2378.88px">100</div><div class="t nb" style="left:1151px;width:32.5px;top:2401.55px">60</div><div class="t nb" style="left:1184.6px;width:32.5px;top:2401.55px">85</div><div class="t nb" style="left:1151px;width:32.5px;top:2424.22px">50</div><div class="t nb" style="left:1184.6px;width:32.5px;top:2424.22px">65</div><div class="t nb" style="left:1151px;width:32.5px;top:2446.89px">40</div><div class="t nb" style="left:1184.6px;width:32.5px;top:2446.89px">56</div><div class="t nb" style="left:1151px;width:32.5px;top:2469.56px">35</div><div class="t nb" style="left:1184.6px;width:32.5px;top:2469.56px">45</div><div class="t nb" style="left:1151px;width:32.5px;top:2492.22px">30</div><div class="t nb" style="left:1184.6px;width:32.5px;top:2492.22px">38</div><div class="t nb" style="left:1151px;width:32.5px;top:2520.16px">25</div><div class="t nb" style="left:1184.6px;width:32.5px;top:2520.16px">31</div><div class="t nb" style="left:1151px;width:32.5px;top:2553.36px">20</div><div class="t nb" style="left:1184.6px;width:32.5px;top:2553.36px">26</div><div class="t nb" style="left:1151px;width:32.5px;top:2586.56px">17</div><div class="t nb" style="left:1184.6px;width:32.5px;top:2586.56px">22</div><div class="t nb" style="left:1151px;width:32.5px;top:2626.31px">14</div><div class="t nb" style="left:1184.6px;width:32.5px;top:2626.31px">18</div>
<div class="d" style="left:127.9px;top:2446.15px;width:101.6px;height:22.67px">SFV10S680K</div><div class="d" style="left:127.9px;top:2468.82px;width:101.6px;height:22.67px">SFV10S560K</div><div class="d" style="left:127.9px;top:2491.49px;width:101.6px;height:22.67px">SFV10S470K</div><div class="d" style="left:127.9px;top:2514.16px;width:101.6px;height:33.2px">SFV10S390K</div><div class="d" style="left:127.9px;top:2547.36px;width:101.6px;height:33.2px">SFV10S330K</div><div class="d" style="left:127.9px;top:2580.56px;width:101.6px;height:33.2px">SFV10S270K</div><div class="d" style="left:127.9px;top:2613.76px;width:101.6px;height:46.3px">SFV10S220K</div>
<div class="d" style="left:231.6px;top:2378.14px;width:102.4px;height:22.67px">SFV10S121K</div><div class="d" style="left:231.6px;top:2400.81px;width:102.4px;height:22.67px">SFV10S101K</div><div class="d" style="left:231.6px;top:2423.48px;width:102.4px;height:22.67px">SFV10S820K</div><div class="d" style="left:231.6px;top:2446.15px;width:102.4px;height:22.67px">SFV15S680K</div><div class="d" style="left:231.6px;top:2468.82px;width:102.4px;height:22.67px">SFV15S560K</div><div class="d" style="left:231.6px;top:2491.49px;width:102.4px;height:22.67px">SFV15S470K</div><div class="d m" style="left:231.6px;top:2513.26px;width:102.4px;height:33.2px"><span>SFV15S390K</span><span>SFV20S390K</span></div><div class="d m" style="left:231.6px;top:2546.46px;width:102.4px;height:33.2px"><span>SFV15S330K</span><span>SFV20S330K</span></div><div class="d m" style="left:231.6px;top:2579.66px;width:102.4px;height:33.2px"><span>SFV15S270K</span><span>SFV20S270K</span></div><div class="d m" style="left:231.6px;top:2612.86px;width:102.4px;height:46.3px"><span>SFV15S220K</span><span>SFV20S220K</span><span>SFV25S220K</span></div>
<div class="d" style="left:334px;top:1970.08px;width:102px;height:22.67px">SFV10S821K</div><div class="d" style="left:334px;top:1992.75px;width:102px;height:22.67px">SFV10S751K</div><div class="d" style="left:334px;top:2015.42px;width:102px;height:22.67px">SFV10S681K</div><div class="d" style="left:334px;top:2038.09px;width:102px;height:22.67px">SFV10S621K</div><div class="d" style="left:334px;top:2060.76px;width:102px;height:22.67px">SFV10S561K</div><div class="d" style="left:334px;top:2083.43px;width:102px;height:22.67px">SFV10S511K</div><div class="d" style="left:334px;top:2106.1px;width:102px;height:22.67px">SFV10S471K</div><div class="d" style="left:334px;top:2128.77px;width:102px;height:22.67px">SFV10S431K</div><div class="d" style="left:334px;top:2151.44px;width:102px;height:22.67px">SFV10S391K</div><div class="d" style="left:334px;top:2174.11px;width:102px;height:22.67px">SFV10S361K</div><div class="d" style="left:334px;top:2196.78px;width:102px;height:22.67px">SFV10S331K</div><div class="d" style="left:334px;top:2219.45px;width:102px;height:22.67px">SFV10S301K</div><div class="d" style="left:334px;top:2242.12px;width:102px;height:22.67px">SFV10S271K</div><div class="d" style="left:334px;top:2264.79px;width:102px;height:22.67px">SFV10S241K</div><div class="d" style="left:334px;top:2287.46px;width:102px;height:22.67px">SFV10S221K</div><div class="d" style="left:334px;top:2310.13px;width:102px;height:22.67px">SFV10S201K</div><div class="d" style="left:334px;top:2332.8px;width:102px;height:22.67px">SFV10S181K</div><div class="d" style="left:334px;top:2355.47px;width:102px;height:22.67px">SFV10S151K</div><div class="d" style="left:334px;top:2446.15px;width:102px;height:22.67px">SFV20S680K</div><div class="d" style="left:334px;top:2468.82px;width:102px;height:22.67px">SFV20S560K</div><div class="d" style="left:334px;top:2491.49px;width:102px;height:22.67px">SFV20S470K</div>
<div class="d" style="left:436px;top:2580.56px;width:102px;height:33.2px">SFV25S270K</div>
<div class="d" style="left:538px;top:2491.49px;width:102px;height:22.67px">SFV25S470K</div><div class="d" style="left:538px;top:2514.16px;width:102px;height:33.2px">SFV25S390K</div><div class="d" style="left:538px;top:2547.36px;width:102px;height:33.2px">SFV25S330K</div>
<div class="d" style="left:640px;top:1970.08px;width:102px;height:22.67px">SFV15S821K</div><div class="d" style="left:640px;top:1992.75px;width:102px;height:22.67px">SFV15S751K</div><div class="d" style="left:640px;top:2015.42px;width:102px;height:22.67px">SFV15S681K</div><div class="d" style="left:640px;top:2038.09px;width:102px;height:22.67px">SFV15S621K</div><div class="d" style="left:640px;top:2060.76px;width:102px;height:22.67px">SFV15S561K</div><div class="d" style="left:640px;top:2083.43px;width:102px;height:22.67px">SFV15S511K</div><div class="d" style="left:640px;top:2106.1px;width:102px;height:22.67px">SFV15S471K</div><div class="d" style="left:640px;top:2128.77px;width:102px;height:22.67px">SFV15S431K</div><div class="d" style="left:640px;top:2151.44px;width:102px;height:22.67px">SFV15S391K</div><div class="d" style="left:640px;top:2174.11px;width:102px;height:22.67px">SFV15S361K</div><div class="d" style="left:640px;top:2196.78px;width:102px;height:22.67px">SFV15S331K</div><div class="d" style="left:640px;top:2219.45px;width:102px;height:22.67px">SFV15S301K</div><div class="d" style="left:640px;top:2242.12px;width:102px;height:22.67px">SFV15S271K</div><div class="d" style="left:640px;top:2264.79px;width:102px;height:22.67px">SFV15S241K</div><div class="d" style="left:640px;top:2287.46px;width:102px;height:22.67px">SFV15S221K</div><div class="d" style="left:640px;top:2310.13px;width:102px;height:22.67px">SFV15S201K</div><div class="d" style="left:640px;top:2332.8px;width:102px;height:22.67px">SFV15S181K</div><div class="d" style="left:640px;top:2355.47px;width:102px;height:22.67px">SFV15S151K</div><div class="d" style="left:640px;top:2378.14px;width:102px;height:22.67px">SFV15S121K</div><div class="d" style="left:640px;top:2400.81px;width:102px;height:22.67px">SFV15S101K</div><div class="d" style="left:640px;top:2423.48px;width:102px;height:22.67px">SFV15S820K</div><div class="d" style="left:640px;top:2446.15px;width:102px;height:22.67px">SFV25S680K</div><div class="d" style="left:640px;top:2468.82px;width:102px;height:22.67px">SFV25S560K</div>
<div class="d" style="left:742px;top:1879.4px;width:102px;height:22.67px">SFV20S122K</div><div class="d" style="left:742px;top:1902.07px;width:102px;height:22.67px">SFV20S112K</div><div class="d" style="left:742px;top:1924.74px;width:102px;height:22.67px">SFV20S102K</div><div class="d" style="left:742px;top:1947.41px;width:102px;height:22.67px">SFV20S911K</div><div class="d" style="left:742px;top:1970.08px;width:102px;height:22.67px">SFV20S821K</div><div class="d" style="left:742px;top:1992.75px;width:102px;height:22.67px">SFV20S751K</div><div class="d" style="left:742px;top:2015.42px;width:102px;height:22.67px">SFV20S681K</div><div class="d" style="left:742px;top:2038.09px;width:102px;height:22.67px">SFV20S621K</div><div class="d" style="left:742px;top:2060.76px;width:102px;height:22.67px">SFV20S561K</div><div class="d" style="left:742px;top:2083.43px;width:102px;height:22.67px">SFV20S511K</div><div class="d" style="left:742px;top:2106.1px;width:102px;height:22.67px">SFV20S471K</div><div class="d" style="left:742px;top:2128.77px;width:102px;height:22.67px">SFV20S431K</div><div class="d" style="left:742px;top:2151.44px;width:102px;height:22.67px">SFV20S391K</div><div class="d" style="left:742px;top:2174.11px;width:102px;height:22.67px">SFV20S361K</div><div class="d" style="left:742px;top:2196.78px;width:102px;height:22.67px">SFV20S331K</div><div class="d" style="left:742px;top:2219.45px;width:102px;height:22.67px">SFV20S301K</div><div class="d" style="left:742px;top:2242.12px;width:102px;height:22.67px">SFV20S271K</div><div class="d" style="left:742px;top:2264.79px;width:102px;height:22.67px">SFV20S241K</div><div class="d" style="left:742px;top:2287.46px;width:102px;height:22.67px">SFV20S221K</div><div class="d" style="left:742px;top:2310.13px;width:102px;height:22.67px">SFV20S201K</div><div class="d" style="left:742px;top:2332.8px;width:102px;height:22.67px">SFV20S181K</div><div class="d" style="left:742px;top:2355.47px;width:102px;height:22.67px">SFV20S151K</div><div class="d" style="left:742px;top:2378.14px;width:102px;height:22.67px">SFV20S121K</div><div class="d" style="left:742px;top:2400.81px;width:102px;height:22.67px">SFV20S101K</div><div class="d" style="left:742px;top:2423.48px;width:102px;height:22.67px">SFV20S820K</div>
<div class="d" style="left:844px;top:2446.15px;width:102px;height:22.67px">SFV34S680K</div><div class="d" style="left:844px;top:2468.82px;width:102px;height:22.67px">SFV34S560K</div><div class="d" style="left:844px;top:2491.49px;width:102px;height:22.67px">SFV34S470K</div>
<div class="d" style="left:946px;top:1879.4px;width:102px;height:22.67px">SFV25S122K</div><div class="d" style="left:946px;top:1902.07px;width:102px;height:22.67px">SFV25S112K</div><div class="d" style="left:946px;top:1924.74px;width:102px;height:22.67px">SFV25S102K</div><div class="d" style="left:946px;top:1947.41px;width:102px;height:22.67px">SFV25S911K</div><div class="d" style="left:946px;top:1970.08px;width:102px;height:22.67px">SFV25S821K</div><div class="d" style="left:946px;top:1992.75px;width:102px;height:22.67px">SFV25S751K</div><div class="d" style="left:946px;top:2015.42px;width:102px;height:22.67px">SFV25S681K</div><div class="d" style="left:946px;top:2038.09px;width:102px;height:22.67px">SFV25S621K</div><div class="d" style="left:946px;top:2060.76px;width:102px;height:22.67px">SFV25S561K</div><div class="d" style="left:946px;top:2083.43px;width:102px;height:22.67px">SFV25S511K</div><div class="d" style="left:946px;top:2106.1px;width:102px;height:22.67px">SFV25S471K</div><div class="d" style="left:946px;top:2128.77px;width:102px;height:22.67px">SFV25S431K</div><div class="d" style="left:946px;top:2151.44px;width:102px;height:22.67px">SFV25S391K</div><div class="d" style="left:946px;top:2174.11px;width:102px;height:22.67px">SFV25S361K</div><div class="d" style="left:946px;top:2196.78px;width:102px;height:22.67px">SFV25S331K</div><div class="d" style="left:946px;top:2219.45px;width:102px;height:22.67px">SFV25S301K</div><div class="d" style="left:946px;top:2242.12px;width:102px;height:22.67px">SFV25S271K</div><div class="d" style="left:946px;top:2264.79px;width:102px;height:22.67px">SFV25S241K</div><div class="d" style="left:946px;top:2287.46px;width:102px;height:22.67px">SFV25S221K</div><div class="d" style="left:946px;top:2310.13px;width:102px;height:22.67px">SFV25S201K</div><div class="d" style="left:946px;top:2332.8px;width:102px;height:22.67px">SFV25S181K</div><div class="d" style="left:946px;top:2355.47px;width:102px;height:22.67px">SFV25S151K</div><div class="d" style="left:946px;top:2378.14px;width:102px;height:22.67px">SFV25S121K</div><div class="d" style="left:946px;top:2400.81px;width:102px;height:22.67px">SFV25S101K</div><div class="d" style="left:946px;top:2423.48px;width:102px;height:22.67px">SFV25S820K</div>
<div class="d" style="left:1048px;top:1879.4px;width:102.3px;height:22.67px">SFV34S122K</div><div class="d" style="left:1048px;top:1902.07px;width:102.3px;height:22.67px">SFV34S112K</div><div class="d" style="left:1048px;top:1924.74px;width:102.3px;height:22.67px">SFV34S102K</div><div class="d" style="left:1048px;top:1947.41px;width:102.3px;height:22.67px">SFV34S911K</div><div class="d" style="left:1048px;top:1970.08px;width:102.3px;height:22.67px">SFV34S821K</div><div class="d" style="left:1048px;top:1992.75px;width:102.3px;height:22.67px">SFV34S751K</div><div class="d" style="left:1048px;top:2015.42px;width:102.3px;height:22.67px">SFV34S681K</div><div class="d" style="left:1048px;top:2038.09px;width:102.3px;height:22.67px">SFV34S621K</div><div class="d" style="left:1048px;top:2060.76px;width:102.3px;height:22.67px">SFV34S561K</div><div class="d" style="left:1048px;top:2083.43px;width:102.3px;height:22.67px">SFV34S511K</div><div class="d" style="left:1048px;top:2106.1px;width:102.3px;height:22.67px">SFV34S471K</div><div class="d" style="left:1048px;top:2128.77px;width:102.3px;height:22.67px">SFV34S431K</div><div class="d" style="left:1048px;top:2151.44px;width:102.3px;height:22.67px">SFV34S391K</div><div class="d" style="left:1048px;top:2174.11px;width:102.3px;height:22.67px">SFV34S361K</div><div class="d" style="left:1048px;top:2196.78px;width:102.3px;height:22.67px">SFV34S331K</div><div class="d" style="left:1048px;top:2219.45px;width:102.3px;height:22.67px">SFV34S301K</div><div class="d" style="left:1048px;top:2242.12px;width:102.3px;height:22.67px">SFV34S271K</div><div class="d" style="left:1048px;top:2264.79px;width:102.3px;height:22.67px">SFV34S241K</div><div class="d" style="left:1048px;top:2287.46px;width:102.3px;height:22.67px">SFV34S221K</div><div class="d" style="left:1048px;top:2310.13px;width:102.3px;height:22.67px">SFV34S201K</div><div class="d" style="left:1048px;top:2332.8px;width:102.3px;height:22.67px">SFV34S181K</div><div class="d" style="left:1048px;top:2355.47px;width:102.3px;height:22.67px">SFV34S151K</div><div class="d" style="left:1048px;top:2378.14px;width:102.3px;height:22.67px">SFV34S121K</div><div class="d" style="left:1048px;top:2400.81px;width:102.3px;height:22.67px">SFV34S101K</div><div class="d" style="left:1048px;top:2423.48px;width:102.3px;height:22.67px">SFV34S820K</div>
<svg class="a" style="top:0;left:0" width="1280" height="2730" viewBox="0 0 1280 2730"><g fill="none" stroke="#bcbcbc" stroke-width="1"><circle cx="180.8" cy="1889.44" r="3.2"/><circle cx="180.8" cy="1912.11" r="3.2"/><circle cx="180.8" cy="1934.78" r="3.2"/><circle cx="180.8" cy="1957.45" r="3.2"/><circle cx="180.8" cy="1980.12" r="3.2"/><circle cx="180.8" cy="2002.79" r="3.2"/><circle cx="180.8" cy="2025.46" r="3.2"/><circle cx="180.8" cy="2048.12" r="3.2"/><circle cx="180.8" cy="2070.8" r="3.2"/><circle cx="180.8" cy="2093.47" r="3.2"/><circle cx="180.8" cy="2116.13" r="3.2"/><circle cx="180.8" cy="2138.8" r="3.2"/><circle cx="180.8" cy="2161.47" r="3.2"/><circle cx="180.8" cy="2184.14" r="3.2"/><circle cx="180.8" cy="2206.82" r="3.2"/><circle cx="180.8" cy="2229.48" r="3.2"/><circle cx="180.8" cy="2252.15" r="3.2"/><circle cx="180.8" cy="2274.82" r="3.2"/><circle cx="180.8" cy="2297.49" r="3.2"/><circle cx="180.8" cy="2320.16" r="3.2"/><circle cx="180.8" cy="2342.84" r="3.2"/><circle cx="180.8" cy="2365.51" r="3.2"/><circle cx="180.8" cy="2388.18" r="3.2"/><circle cx="180.8" cy="2410.85" r="3.2"/><circle cx="180.8" cy="2433.51" r="3.2"/><circle cx="282.8" cy="1889.44" r="3.2"/><circle cx="282.8" cy="1912.11" r="3.2"/><circle cx="282.8" cy="1934.78" r="3.2"/><circle cx="282.8" cy="1957.45" r="3.2"/><circle cx="282.8" cy="1980.12" r="3.2"/><circle cx="282.8" cy="2002.79" r="3.2"/><circle cx="282.8" cy="2025.46" r="3.2"/><circle cx="282.8" cy="2048.12" r="3.2"/><circle cx="282.8" cy="2070.8" r="3.2"/><circle cx="282.8" cy="2093.47" r="3.2"/><circle cx="282.8" cy="2116.13" r="3.2"/><circle cx="282.8" cy="2138.8" r="3.2"/><circle cx="282.8" cy="2161.47" r="3.2"/><circle cx="282.8" cy="2184.14" r="3.2"/><circle cx="282.8" cy="2206.82" r="3.2"/><circle cx="282.8" cy="2229.48" r="3.2"/><circle cx="282.8" cy="2252.15" r="3.2"/><circle cx="282.8" cy="2274.82" r="3.2"/><circle cx="282.8" cy="2297.49" r="3.2"/><circle cx="282.8" cy="2320.16" r="3.2"/><circle cx="282.8" cy="2342.84" r="3.2"/><circle cx="282.8" cy="2365.51" r="3.2"/><circle cx="385" cy="1889.44" r="3.2"/><circle cx="385" cy="1912.11" r="3.2"/><circle cx="385" cy="1934.78" r="3.2"/><circle cx="385" cy="1957.45" r="3.2"/><circle cx="385" cy="2388.18" r="3.2"/><circle cx="385" cy="2410.85" r="3.2"/><circle cx="385" cy="2433.51" r="3.2"/><circle cx="385" cy="2529.46" r="3.2"/><circle cx="385" cy="2562.66" r="3.2"/><circle cx="385" cy="2595.86" r="3.2"/><circle cx="385" cy="2635.61" r="3.2"/><circle cx="487" cy="1889.44" r="3.2"/><circle cx="487" cy="1912.11" r="3.2"/><circle cx="487" cy="1934.78" r="3.2"/><circle cx="487" cy="1957.45" r="3.2"/><circle cx="487" cy="1980.12" r="3.2"/><circle cx="487" cy="2002.79" r="3.2"/><circle cx="487" cy="2025.46" r="3.2"/><circle cx="487" cy="2048.12" r="3.2"/><circle cx="487" cy="2070.8" r="3.2"/><circle cx="487" cy="2093.47" r="3.2"/><circle cx="487" cy="2116.13" r="3.2"/><circle cx="487" cy="2138.8" r="3.2"/><circle cx="487" cy="2161.47" r="3.2"/><circle cx="487" cy="2184.14" r="3.2"/><circle cx="487" cy="2206.82" r="3.2"/><circle cx="487" cy="2229.48" r="3.2"/><circle cx="487" cy="2252.15" r="3.2"/><circle cx="487" cy="2274.82" r="3.2"/><circle cx="487" cy="2297.49" r="3.2"/><circle cx="487" cy="2320.16" r="3.2"/><circle cx="487" cy="2342.84" r="3.2"/><circle cx="487" cy="2365.51" r="3.2"/><circle cx="487" cy="2388.18" r="3.2"/><circle cx="487" cy="2410.85" r="3.2"/><circle cx="487" cy="2433.51" r="3.2"/><circle cx="487" cy="2456.18" r="3.2"/><circle cx="487" cy="2478.86" r="3.2"/><circle cx="487" cy="2501.52" r="3.2"/><circle cx="487" cy="2529.46" r="3.2"/><circle cx="487" cy="2562.66" r="3.2"/><circle cx="487" cy="2635.61" r="3.2"/><circle cx="589" cy="1889.44" r="3.2"/><circle cx="589" cy="1912.11" r="3.2"/><circle cx="589" cy="1934.78" r="3.2"/><circle cx="589" cy="1957.45" r="3.2"/><circle cx="589" cy="1980.12" r="3.2"/><circle cx="589" cy="2002.79" r="3.2"/><circle cx="589" cy="2025.46" r="3.2"/><circle cx="589" cy="2048.12" r="3.2"/><circle cx="589" cy="2070.8" r="3.2"/><circle cx="589" cy="2093.47" r="3.2"/><circle cx="589" cy="2116.13" r="3.2"/><circle cx="589" cy="2138.8" r="3.2"/><circle cx="589" cy="2161.47" r="3.2"/><circle cx="589" cy="2184.14" r="3.2"/><circle cx="589" cy="2206.82" r="3.2"/><circle cx="589" cy="2229.48" r="3.2"/><circle cx="589" cy="2252.15" r="3.2"/><circle cx="589" cy="2274.82" r="3.2"/><circle cx="589" cy="2297.49" r="3.2"/><circle cx="589" cy="2320.16" r="3.2"/><circle cx="589" cy="2342.84" r="3.2"/><circle cx="589" cy="2365.51" r="3.2"/><circle cx="589" cy="2388.18" r="3.2"/><circle cx="589" cy="2410.85" r="3.2"/><circle cx="589" cy="2433.51" r="3.2"/><circle cx="589" cy="2456.18" r="3.2"/><circle cx="589" cy="2478.86" r="3.2"/><circle cx="589" cy="2595.86" r="3.2"/><circle cx="589" cy="2635.61" r="3.2"/><circle cx="691" cy="1889.44" r="3.2"/><circle cx="691" cy="1912.11" r="3.2"/><circle cx="691" cy="1934.78" r="3.2"/><circle cx="691" cy="1957.45" r="3.2"/><circle cx="691" cy="2501.52" r="3.2"/><circle cx="691" cy="2529.46" r="3.2"/><circle cx="691" cy="2562.66" r="3.2"/><circle cx="691" cy="2595.86" r="3.2"/><circle cx="691" cy="2635.61" r="3.2"/><circle cx="793" cy="2456.18" r="3.2"/><circle cx="793" cy="2478.86" r="3.2"/><circle cx="793" cy="2501.52" r="3.2"/><circle cx="793" cy="2529.46" r="3.2"/><circle cx="793" cy="2562.66" r="3.2"/><circle cx="793" cy="2595.86" r="3.2"/><circle cx="793" cy="2635.61" r="3.2"/><circle cx="895" cy="1889.44" r="3.2"/><circle cx="895" cy="1912.11" r="3.2"/><circle cx="895" cy="1934.78" r="3.2"/><circle cx="895" cy="1957.45" r="3.2"/><circle cx="895" cy="1980.12" r="3.2"/><circle cx="895" cy="2002.79" r="3.2"/><circle cx="895" cy="2025.46" r="3.2"/><circle cx="895" cy="2048.12" r="3.2"/><circle cx="895" cy="2070.8" r="3.2"/><circle cx="895" cy="2093.47" r="3.2"/><circle cx="895" cy="2116.13" r="3.2"/><circle cx="895" cy="2138.8" r="3.2"/><circle cx="895" cy="2161.47" r="3.2"/><circle cx="895" cy="2184.14" r="3.2"/><circle cx="895" cy="2206.82" r="3.2"/><circle cx="895" cy="2229.48" r="3.2"/><circle cx="895" cy="2252.15" r="3.2"/><circle cx="895" cy="2274.82" r="3.2"/><circle cx="895" cy="2297.49" r="3.2"/><circle cx="895" cy="2320.16" r="3.2"/><circle cx="895" cy="2342.84" r="3.2"/><circle cx="895" cy="2365.51" r="3.2"/><circle cx="895" cy="2388.18" r="3.2"/><circle cx="895" cy="2410.85" r="3.2"/><circle cx="895" cy="2433.51" r="3.2"/><circle cx="895" cy="2529.46" r="3.2"/><circle cx="895" cy="2562.66" r="3.2"/><circle cx="895" cy="2595.86" r="3.2"/><circle cx="895" cy="2635.61" r="3.2"/><circle cx="997" cy="2456.18" r="3.2"/><circle cx="997" cy="2478.86" r="3.2"/><circle cx="997" cy="2501.52" r="3.2"/><circle cx="997" cy="2529.46" r="3.2"/><circle cx="997" cy="2562.66" r="3.2"/><circle cx="997" cy="2595.86" r="3.2"/><circle cx="997" cy="2635.61" r="3.2"/><circle cx="1099.15" cy="2456.18" r="3.2"/><circle cx="1099.15" cy="2478.86" r="3.2"/><circle cx="1099.15" cy="2501.52" r="3.2"/><circle cx="1099.15" cy="2529.46" r="3.2"/><circle cx="1099.15" cy="2562.66" r="3.2"/><circle cx="1099.15" cy="2595.86" r="3.2"/><circle cx="1099.15" cy="2635.61" r="3.2"/></g></svg>
<div class="t bl" style="left:130px;width:101.6px;top:2660.4px">2</div><div class="t bl" style="left:231.6px;width:102.4px;top:2660.4px">3</div><div class="t bl" style="left:334px;width:102px;top:2660.4px">5</div><div class="t bl" style="left:436px;width:102px;top:2660.4px">6</div><div class="t bl" style="left:538px;width:102px;top:2660.4px">8</div><div class="t bl" style="left:640px;width:102px;top:2660.4px">10</div><div class="t bl" style="left:742px;width:102px;top:2660.4px">15</div><div class="t bl" style="left:844px;width:102px;top:2660.4px">20</div><div class="t bl" style="left:946px;width:102px;top:2660.4px">25</div><div class="t bl" style="left:1048px;width:102.3px;top:2660.4px">40</div><div class="t lb" style="left:43.5px;width:42.8px;top:2662.2px;font-size:17px;transform:none">AC</div><div class="t lb" style="left:86.3px;width:42px;top:2662.2px;font-size:17px;transform:none">DC</div><div class="t nb" style="left:1151px;width:32.5px;top:2661.9px">AC</div><div class="t nb" style="left:1184.6px;width:32.5px;top:2661.9px">DC</div><div class="t xt" style="left:0;width:1280px;top:2689px">Maximum Peak Current (8/20 μs) (kA)</div><div class="t rot" style="left:-200px;width:600px;top:2253.38px;color:#12479a;font-size:20.3px;transform:translateX(-74.2px) rotate(-90deg)">Nominal Operating Voltage <i style="font-weight:normal">U</i><sub style="font-size:11.5px;vertical-align:-3px">n</sub> ( V )</div><div class="t rot" style="left:932.2px;width:600px;top:2251.23px;color:#167e88;transform:rotate(90deg)">Maximum Continuous Operating Voltage <i>U</i><sub style="font-size:11.5px;vertical-align:-3px">n</sub> ( V )</div><div class="t rot" style="left:963px;width:600px;top:2256.23px;color:#167e88;transform:rotate(90deg)">Model</div><div class="t rot" style="left:1217.6px;top:1850.4px;color:#167e88">Page</div>
</body></html>
